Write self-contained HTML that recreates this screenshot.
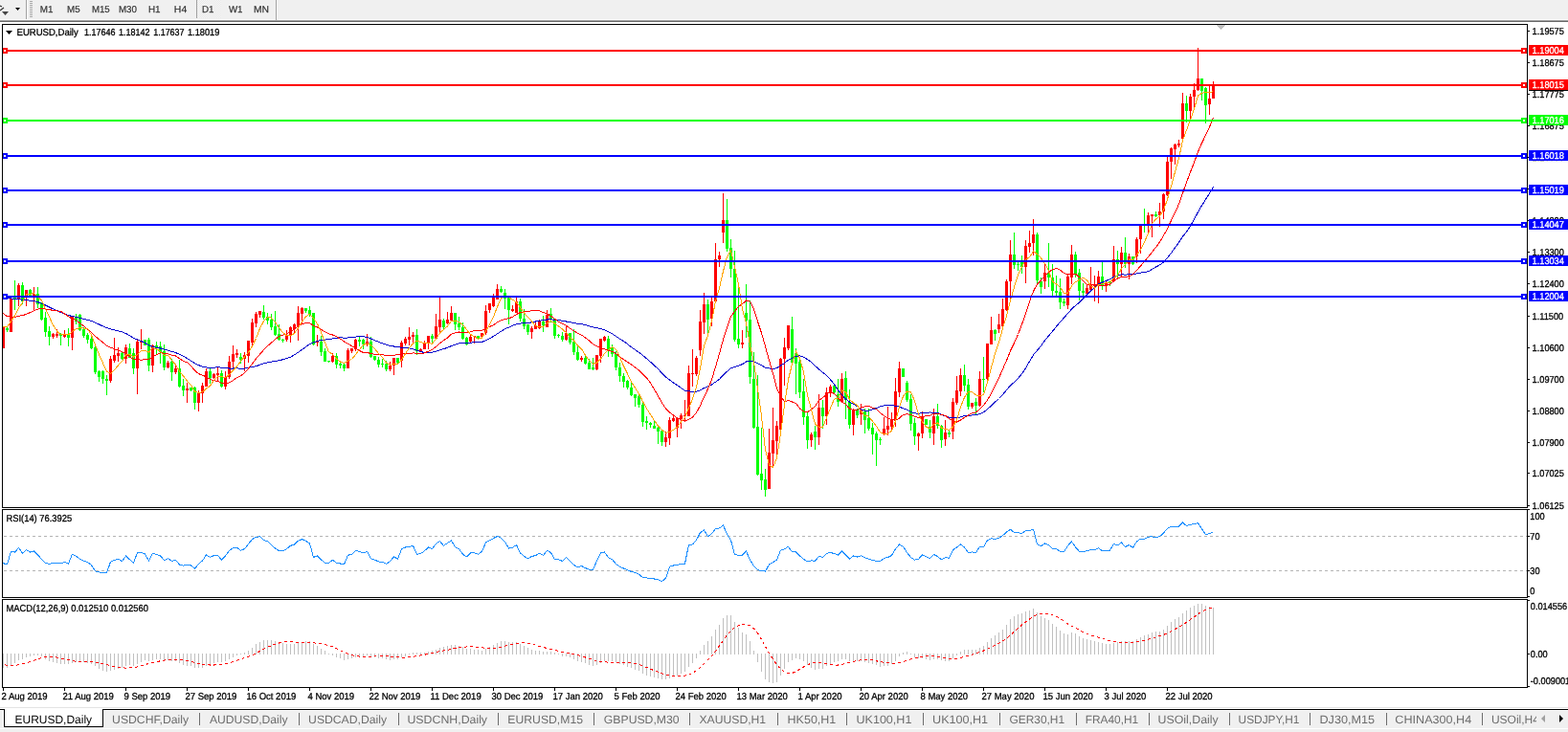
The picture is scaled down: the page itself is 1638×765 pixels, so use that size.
<!DOCTYPE html>
<html><head><meta charset="utf-8"><title>EURUSD,Daily</title>
<style>
html,body{margin:0;padding:0;background:#fff;}
body{width:1638px;height:765px;overflow:hidden;}
svg text{font-family:'Liberation Sans', Arial, sans-serif;text-rendering:geometricPrecision;}
</style></head>
<body>
<svg width="1638" height="765" viewBox="0 0 1638 765" style="display:block">
<rect x="0" y="0" width="1638" height="765" fill="#ffffff"/>
<rect x="0" y="0" width="1638" height="20" fill="#f0f0f0"/>
<rect x="0" y="20" width="1638" height="1" fill="#fafafa"/>
<rect x="0" y="21" width="1638" height="1" fill="#a0a0a0"/>
<rect x="0" y="22" width="1638" height="1" fill="#696969"/>
<clipPath id="cm"><rect x="3" y="26" width="1592" height="504"/></clipPath>
<clipPath id="cr"><rect x="3" y="533" width="1592" height="91"/></clipPath>
<clipPath id="cd"><rect x="3" y="627" width="1592" height="91"/></clipPath>
<g clip-path="url(#cm)" shape-rendering="crispEdges">
<rect x="3" y="341" width="1" height="23" fill="#ff0000"/>
<rect x="2" y="342" width="3" height="22" fill="#ff0000"/>
<rect x="7" y="342" width="1" height="5" fill="#00ff00"/>
<rect x="6" y="343" width="3" height="2" fill="#00ff00"/>
<rect x="11" y="311" width="1" height="36" fill="#ff0000"/>
<rect x="10" y="312" width="3" height="35" fill="#ff0000"/>
<rect x="15" y="293" width="1" height="31" fill="#00ff00"/>
<rect x="14" y="311" width="3" height="2" fill="#00ff00"/>
<rect x="19" y="296" width="1" height="24" fill="#ff0000"/>
<rect x="18" y="298" width="3" height="15" fill="#ff0000"/>
<rect x="23" y="295" width="1" height="23" fill="#00ff00"/>
<rect x="22" y="298" width="3" height="17" fill="#00ff00"/>
<rect x="27" y="303" width="1" height="17" fill="#ff0000"/>
<rect x="26" y="303" width="3" height="7" fill="#ff0000"/>
<rect x="31" y="302" width="1" height="8" fill="#00ff00"/>
<rect x="30" y="303" width="3" height="7" fill="#00ff00"/>
<rect x="35" y="300" width="1" height="25" fill="#ff0000"/>
<rect x="34" y="307" width="3" height="3" fill="#ff0000"/>
<rect x="39" y="300" width="1" height="22" fill="#00ff00"/>
<rect x="38" y="307" width="3" height="11" fill="#00ff00"/>
<rect x="43" y="316" width="1" height="19" fill="#00ff00"/>
<rect x="42" y="317" width="3" height="17" fill="#00ff00"/>
<rect x="47" y="326" width="1" height="26" fill="#00ff00"/>
<rect x="46" y="332" width="3" height="15" fill="#00ff00"/>
<rect x="51" y="341" width="1" height="20" fill="#00ff00"/>
<rect x="50" y="346" width="3" height="6" fill="#00ff00"/>
<rect x="55" y="348" width="1" height="6" fill="#ff0000"/>
<rect x="54" y="349" width="3" height="3" fill="#ff0000"/>
<rect x="59" y="344" width="1" height="9" fill="#ff0000"/>
<rect x="58" y="349" width="3" height="2" fill="#ff0000"/>
<rect x="63" y="348" width="1" height="13" fill="#00ff00"/>
<rect x="62" y="349" width="3" height="2" fill="#00ff00"/>
<rect x="67" y="345" width="1" height="8" fill="#ff0000"/>
<rect x="66" y="349" width="3" height="3" fill="#ff0000"/>
<rect x="71" y="343" width="1" height="19" fill="#00ff00"/>
<rect x="70" y="349" width="3" height="4" fill="#00ff00"/>
<rect x="75" y="330" width="1" height="36" fill="#ff0000"/>
<rect x="74" y="331" width="3" height="22" fill="#ff0000"/>
<rect x="79" y="328" width="1" height="11" fill="#00ff00"/>
<rect x="78" y="331" width="3" height="5" fill="#00ff00"/>
<rect x="83" y="328" width="1" height="18" fill="#00ff00"/>
<rect x="82" y="329" width="3" height="16" fill="#00ff00"/>
<rect x="87" y="342" width="1" height="11" fill="#00ff00"/>
<rect x="86" y="344" width="3" height="7" fill="#00ff00"/>
<rect x="91" y="348" width="1" height="11" fill="#00ff00"/>
<rect x="90" y="350" width="3" height="5" fill="#00ff00"/>
<rect x="95" y="350" width="1" height="15" fill="#00ff00"/>
<rect x="94" y="354" width="3" height="10" fill="#00ff00"/>
<rect x="99" y="362" width="1" height="29" fill="#00ff00"/>
<rect x="98" y="363" width="3" height="26" fill="#00ff00"/>
<rect x="103" y="387" width="1" height="12" fill="#00ff00"/>
<rect x="102" y="388" width="3" height="6" fill="#00ff00"/>
<rect x="107" y="387" width="1" height="14" fill="#00ff00"/>
<rect x="106" y="388" width="3" height="8" fill="#00ff00"/>
<rect x="111" y="392" width="1" height="21" fill="#00ff00"/>
<rect x="110" y="396" width="3" height="2" fill="#00ff00"/>
<rect x="115" y="372" width="1" height="28" fill="#ff0000"/>
<rect x="114" y="375" width="3" height="23" fill="#ff0000"/>
<rect x="119" y="353" width="1" height="26" fill="#ff0000"/>
<rect x="118" y="371" width="3" height="6" fill="#ff0000"/>
<rect x="123" y="363" width="1" height="15" fill="#ff0000"/>
<rect x="122" y="369" width="3" height="3" fill="#ff0000"/>
<rect x="127" y="368" width="1" height="8" fill="#00ff00"/>
<rect x="126" y="369" width="3" height="6" fill="#00ff00"/>
<rect x="131" y="360" width="1" height="20" fill="#ff0000"/>
<rect x="130" y="363" width="3" height="12" fill="#ff0000"/>
<rect x="135" y="359" width="1" height="15" fill="#00ff00"/>
<rect x="134" y="364" width="3" height="10" fill="#00ff00"/>
<rect x="139" y="364" width="1" height="27" fill="#00ff00"/>
<rect x="138" y="369" width="3" height="16" fill="#00ff00"/>
<rect x="143" y="355" width="1" height="57" fill="#ff0000"/>
<rect x="142" y="357" width="3" height="28" fill="#ff0000"/>
<rect x="147" y="344" width="1" height="21" fill="#ff0000"/>
<rect x="146" y="357" width="3" height="1" fill="#ff0000"/>
<rect x="151" y="355" width="1" height="6" fill="#00ff00"/>
<rect x="150" y="355" width="3" height="6" fill="#00ff00"/>
<rect x="155" y="353" width="1" height="35" fill="#00ff00"/>
<rect x="154" y="355" width="3" height="27" fill="#00ff00"/>
<rect x="159" y="360" width="1" height="29" fill="#ff0000"/>
<rect x="158" y="361" width="3" height="21" fill="#ff0000"/>
<rect x="163" y="357" width="1" height="13" fill="#00ff00"/>
<rect x="162" y="361" width="3" height="3" fill="#00ff00"/>
<rect x="167" y="357" width="1" height="23" fill="#00ff00"/>
<rect x="166" y="362" width="3" height="6" fill="#00ff00"/>
<rect x="171" y="360" width="1" height="27" fill="#00ff00"/>
<rect x="170" y="367" width="3" height="17" fill="#00ff00"/>
<rect x="175" y="377" width="1" height="8" fill="#ff0000"/>
<rect x="174" y="379" width="3" height="5" fill="#ff0000"/>
<rect x="179" y="375" width="1" height="23" fill="#00ff00"/>
<rect x="178" y="378" width="3" height="11" fill="#00ff00"/>
<rect x="183" y="382" width="1" height="9" fill="#ff0000"/>
<rect x="182" y="385" width="3" height="4" fill="#ff0000"/>
<rect x="187" y="376" width="1" height="29" fill="#00ff00"/>
<rect x="186" y="385" width="3" height="19" fill="#00ff00"/>
<rect x="191" y="396" width="1" height="18" fill="#00ff00"/>
<rect x="190" y="403" width="3" height="5" fill="#00ff00"/>
<rect x="195" y="400" width="1" height="21" fill="#ff0000"/>
<rect x="194" y="406" width="3" height="2" fill="#ff0000"/>
<rect x="199" y="405" width="1" height="4" fill="#00ff00"/>
<rect x="198" y="405" width="3" height="3" fill="#00ff00"/>
<rect x="203" y="404" width="1" height="24" fill="#00ff00"/>
<rect x="202" y="405" width="3" height="16" fill="#00ff00"/>
<rect x="207" y="408" width="1" height="22" fill="#ff0000"/>
<rect x="206" y="411" width="3" height="10" fill="#ff0000"/>
<rect x="211" y="400" width="1" height="21" fill="#ff0000"/>
<rect x="210" y="403" width="3" height="8" fill="#ff0000"/>
<rect x="215" y="385" width="1" height="19" fill="#ff0000"/>
<rect x="214" y="388" width="3" height="16" fill="#ff0000"/>
<rect x="219" y="385" width="1" height="16" fill="#00ff00"/>
<rect x="218" y="388" width="3" height="7" fill="#00ff00"/>
<rect x="223" y="390" width="1" height="6" fill="#ff0000"/>
<rect x="222" y="391" width="3" height="4" fill="#ff0000"/>
<rect x="227" y="384" width="1" height="14" fill="#ff0000"/>
<rect x="226" y="390" width="3" height="2" fill="#ff0000"/>
<rect x="231" y="387" width="1" height="18" fill="#00ff00"/>
<rect x="230" y="390" width="3" height="14" fill="#00ff00"/>
<rect x="235" y="388" width="1" height="19" fill="#ff0000"/>
<rect x="234" y="394" width="3" height="10" fill="#ff0000"/>
<rect x="239" y="372" width="1" height="24" fill="#ff0000"/>
<rect x="238" y="378" width="3" height="16" fill="#ff0000"/>
<rect x="243" y="361" width="1" height="23" fill="#ff0000"/>
<rect x="242" y="370" width="3" height="8" fill="#ff0000"/>
<rect x="247" y="365" width="1" height="9" fill="#ff0000"/>
<rect x="246" y="369" width="3" height="2" fill="#ff0000"/>
<rect x="251" y="369" width="1" height="11" fill="#00ff00"/>
<rect x="250" y="373" width="3" height="3" fill="#00ff00"/>
<rect x="255" y="368" width="1" height="20" fill="#ff0000"/>
<rect x="254" y="371" width="3" height="4" fill="#ff0000"/>
<rect x="259" y="356" width="1" height="23" fill="#ff0000"/>
<rect x="258" y="356" width="3" height="16" fill="#ff0000"/>
<rect x="263" y="333" width="1" height="28" fill="#ff0000"/>
<rect x="262" y="337" width="3" height="21" fill="#ff0000"/>
<rect x="267" y="326" width="1" height="16" fill="#ff0000"/>
<rect x="266" y="328" width="3" height="10" fill="#ff0000"/>
<rect x="271" y="325" width="1" height="7" fill="#ff0000"/>
<rect x="270" y="325" width="3" height="4" fill="#ff0000"/>
<rect x="275" y="319" width="1" height="15" fill="#00ff00"/>
<rect x="274" y="326" width="3" height="6" fill="#00ff00"/>
<rect x="279" y="327" width="1" height="12" fill="#00ff00"/>
<rect x="278" y="331" width="3" height="4" fill="#00ff00"/>
<rect x="283" y="328" width="1" height="17" fill="#00ff00"/>
<rect x="282" y="334" width="3" height="8" fill="#00ff00"/>
<rect x="287" y="325" width="1" height="26" fill="#00ff00"/>
<rect x="286" y="341" width="3" height="9" fill="#00ff00"/>
<rect x="291" y="339" width="1" height="17" fill="#00ff00"/>
<rect x="290" y="349" width="3" height="6" fill="#00ff00"/>
<rect x="295" y="354" width="1" height="4" fill="#00ff00"/>
<rect x="294" y="355" width="3" height="1" fill="#00ff00"/>
<rect x="299" y="345" width="1" height="12" fill="#ff0000"/>
<rect x="298" y="351" width="3" height="4" fill="#ff0000"/>
<rect x="303" y="341" width="1" height="17" fill="#ff0000"/>
<rect x="302" y="342" width="3" height="9" fill="#ff0000"/>
<rect x="307" y="338" width="1" height="10" fill="#ff0000"/>
<rect x="306" y="339" width="3" height="5" fill="#ff0000"/>
<rect x="311" y="320" width="1" height="36" fill="#ff0000"/>
<rect x="310" y="327" width="3" height="14" fill="#ff0000"/>
<rect x="315" y="321" width="1" height="17" fill="#ff0000"/>
<rect x="314" y="322" width="3" height="6" fill="#ff0000"/>
<rect x="319" y="322" width="1" height="5" fill="#00ff00"/>
<rect x="318" y="322" width="3" height="3" fill="#00ff00"/>
<rect x="323" y="320" width="1" height="11" fill="#00ff00"/>
<rect x="322" y="324" width="3" height="5" fill="#00ff00"/>
<rect x="327" y="327" width="1" height="34" fill="#00ff00"/>
<rect x="326" y="327" width="3" height="33" fill="#00ff00"/>
<rect x="331" y="350" width="1" height="12" fill="#ff0000"/>
<rect x="330" y="357" width="3" height="1" fill="#ff0000"/>
<rect x="335" y="351" width="1" height="21" fill="#00ff00"/>
<rect x="334" y="357" width="3" height="11" fill="#00ff00"/>
<rect x="339" y="364" width="1" height="14" fill="#00ff00"/>
<rect x="338" y="367" width="3" height="11" fill="#00ff00"/>
<rect x="343" y="377" width="1" height="2" fill="#00ff00"/>
<rect x="342" y="377" width="3" height="1" fill="#00ff00"/>
<rect x="347" y="369" width="1" height="10" fill="#ff0000"/>
<rect x="346" y="372" width="3" height="6" fill="#ff0000"/>
<rect x="351" y="369" width="1" height="16" fill="#00ff00"/>
<rect x="350" y="372" width="3" height="9" fill="#00ff00"/>
<rect x="355" y="378" width="1" height="7" fill="#00ff00"/>
<rect x="354" y="380" width="3" height="2" fill="#00ff00"/>
<rect x="359" y="379" width="1" height="9" fill="#00ff00"/>
<rect x="358" y="381" width="3" height="4" fill="#00ff00"/>
<rect x="363" y="364" width="1" height="21" fill="#ff0000"/>
<rect x="362" y="366" width="3" height="19" fill="#ff0000"/>
<rect x="367" y="364" width="1" height="5" fill="#ff0000"/>
<rect x="366" y="364" width="3" height="3" fill="#ff0000"/>
<rect x="371" y="354" width="1" height="13" fill="#ff0000"/>
<rect x="370" y="355" width="3" height="10" fill="#ff0000"/>
<rect x="375" y="352" width="1" height="10" fill="#00ff00"/>
<rect x="374" y="355" width="3" height="2" fill="#00ff00"/>
<rect x="379" y="354" width="1" height="11" fill="#00ff00"/>
<rect x="378" y="355" width="3" height="5" fill="#00ff00"/>
<rect x="383" y="349" width="1" height="13" fill="#ff0000"/>
<rect x="382" y="357" width="3" height="2" fill="#ff0000"/>
<rect x="387" y="352" width="1" height="22" fill="#00ff00"/>
<rect x="386" y="357" width="3" height="16" fill="#00ff00"/>
<rect x="391" y="372" width="1" height="5" fill="#00ff00"/>
<rect x="390" y="372" width="3" height="4" fill="#00ff00"/>
<rect x="395" y="373" width="1" height="11" fill="#00ff00"/>
<rect x="394" y="376" width="3" height="5" fill="#00ff00"/>
<rect x="399" y="375" width="1" height="9" fill="#00ff00"/>
<rect x="398" y="380" width="3" height="1" fill="#00ff00"/>
<rect x="403" y="377" width="1" height="11" fill="#00ff00"/>
<rect x="402" y="380" width="3" height="6" fill="#00ff00"/>
<rect x="407" y="378" width="1" height="10" fill="#ff0000"/>
<rect x="406" y="382" width="3" height="4" fill="#ff0000"/>
<rect x="411" y="374" width="1" height="18" fill="#ff0000"/>
<rect x="410" y="374" width="3" height="8" fill="#ff0000"/>
<rect x="415" y="374" width="1" height="6" fill="#00ff00"/>
<rect x="414" y="374" width="3" height="5" fill="#00ff00"/>
<rect x="419" y="356" width="1" height="28" fill="#ff0000"/>
<rect x="418" y="358" width="3" height="19" fill="#ff0000"/>
<rect x="423" y="352" width="1" height="9" fill="#ff0000"/>
<rect x="422" y="354" width="3" height="5" fill="#ff0000"/>
<rect x="427" y="342" width="1" height="19" fill="#ff0000"/>
<rect x="426" y="352" width="3" height="3" fill="#ff0000"/>
<rect x="431" y="347" width="1" height="12" fill="#ff0000"/>
<rect x="430" y="350" width="3" height="2" fill="#ff0000"/>
<rect x="435" y="344" width="1" height="27" fill="#00ff00"/>
<rect x="434" y="350" width="3" height="17" fill="#00ff00"/>
<rect x="439" y="364" width="1" height="4" fill="#ff0000"/>
<rect x="438" y="365" width="3" height="2" fill="#ff0000"/>
<rect x="443" y="356" width="1" height="9" fill="#ff0000"/>
<rect x="442" y="359" width="3" height="6" fill="#ff0000"/>
<rect x="447" y="351" width="1" height="14" fill="#ff0000"/>
<rect x="446" y="351" width="3" height="7" fill="#ff0000"/>
<rect x="451" y="349" width="1" height="9" fill="#00ff00"/>
<rect x="450" y="351" width="3" height="3" fill="#00ff00"/>
<rect x="455" y="328" width="1" height="26" fill="#ff0000"/>
<rect x="454" y="341" width="3" height="13" fill="#ff0000"/>
<rect x="459" y="311" width="1" height="37" fill="#ff0000"/>
<rect x="458" y="334" width="3" height="8" fill="#ff0000"/>
<rect x="463" y="333" width="1" height="11" fill="#00ff00"/>
<rect x="462" y="335" width="3" height="7" fill="#00ff00"/>
<rect x="467" y="326" width="1" height="13" fill="#ff0000"/>
<rect x="466" y="334" width="3" height="4" fill="#ff0000"/>
<rect x="471" y="320" width="1" height="16" fill="#ff0000"/>
<rect x="470" y="327" width="3" height="8" fill="#ff0000"/>
<rect x="475" y="327" width="1" height="18" fill="#00ff00"/>
<rect x="474" y="327" width="3" height="12" fill="#00ff00"/>
<rect x="479" y="331" width="1" height="14" fill="#00ff00"/>
<rect x="478" y="338" width="3" height="4" fill="#00ff00"/>
<rect x="483" y="337" width="1" height="18" fill="#00ff00"/>
<rect x="482" y="342" width="3" height="12" fill="#00ff00"/>
<rect x="487" y="352" width="1" height="9" fill="#00ff00"/>
<rect x="486" y="353" width="3" height="7" fill="#00ff00"/>
<rect x="491" y="350" width="1" height="9" fill="#ff0000"/>
<rect x="490" y="352" width="3" height="5" fill="#ff0000"/>
<rect x="495" y="351" width="1" height="8" fill="#ff0000"/>
<rect x="494" y="351" width="3" height="1" fill="#ff0000"/>
<rect x="499" y="351" width="1" height="4" fill="#00ff00"/>
<rect x="498" y="351" width="3" height="3" fill="#00ff00"/>
<rect x="503" y="348" width="1" height="6" fill="#ff0000"/>
<rect x="502" y="348" width="3" height="4" fill="#ff0000"/>
<rect x="507" y="319" width="1" height="31" fill="#ff0000"/>
<rect x="506" y="325" width="3" height="23" fill="#ff0000"/>
<rect x="511" y="317" width="1" height="10" fill="#ff0000"/>
<rect x="510" y="317" width="3" height="7" fill="#ff0000"/>
<rect x="515" y="307" width="1" height="14" fill="#ff0000"/>
<rect x="514" y="310" width="3" height="10" fill="#ff0000"/>
<rect x="519" y="297" width="1" height="16" fill="#ff0000"/>
<rect x="518" y="302" width="3" height="11" fill="#ff0000"/>
<rect x="523" y="299" width="1" height="7" fill="#00ff00"/>
<rect x="522" y="302" width="3" height="3" fill="#00ff00"/>
<rect x="527" y="302" width="1" height="21" fill="#00ff00"/>
<rect x="526" y="306" width="3" height="6" fill="#00ff00"/>
<rect x="531" y="310" width="1" height="29" fill="#00ff00"/>
<rect x="530" y="311" width="3" height="13" fill="#00ff00"/>
<rect x="535" y="319" width="1" height="7" fill="#ff0000"/>
<rect x="534" y="323" width="3" height="2" fill="#ff0000"/>
<rect x="539" y="311" width="1" height="16" fill="#ff0000"/>
<rect x="538" y="315" width="3" height="12" fill="#ff0000"/>
<rect x="543" y="312" width="1" height="24" fill="#00ff00"/>
<rect x="542" y="315" width="3" height="18" fill="#00ff00"/>
<rect x="547" y="323" width="1" height="21" fill="#00ff00"/>
<rect x="546" y="333" width="3" height="8" fill="#00ff00"/>
<rect x="551" y="339" width="1" height="11" fill="#00ff00"/>
<rect x="550" y="339" width="3" height="8" fill="#00ff00"/>
<rect x="555" y="341" width="1" height="13" fill="#ff0000"/>
<rect x="554" y="343" width="3" height="4" fill="#ff0000"/>
<rect x="559" y="337" width="1" height="7" fill="#ff0000"/>
<rect x="558" y="340" width="3" height="4" fill="#ff0000"/>
<rect x="563" y="334" width="1" height="10" fill="#ff0000"/>
<rect x="562" y="336" width="3" height="7" fill="#ff0000"/>
<rect x="567" y="330" width="1" height="17" fill="#00ff00"/>
<rect x="566" y="336" width="3" height="4" fill="#00ff00"/>
<rect x="571" y="324" width="1" height="18" fill="#ff0000"/>
<rect x="570" y="329" width="3" height="13" fill="#ff0000"/>
<rect x="575" y="322" width="1" height="15" fill="#00ff00"/>
<rect x="574" y="328" width="3" height="6" fill="#00ff00"/>
<rect x="579" y="333" width="1" height="21" fill="#00ff00"/>
<rect x="578" y="333" width="3" height="18" fill="#00ff00"/>
<rect x="583" y="349" width="1" height="4" fill="#00ff00"/>
<rect x="582" y="350" width="3" height="1" fill="#00ff00"/>
<rect x="587" y="347" width="1" height="10" fill="#00ff00"/>
<rect x="586" y="351" width="3" height="4" fill="#00ff00"/>
<rect x="591" y="340" width="1" height="16" fill="#ff0000"/>
<rect x="590" y="348" width="3" height="7" fill="#ff0000"/>
<rect x="595" y="348" width="1" height="12" fill="#00ff00"/>
<rect x="594" y="348" width="3" height="10" fill="#00ff00"/>
<rect x="599" y="344" width="1" height="27" fill="#00ff00"/>
<rect x="598" y="357" width="3" height="11" fill="#00ff00"/>
<rect x="603" y="362" width="1" height="15" fill="#00ff00"/>
<rect x="602" y="368" width="3" height="8" fill="#00ff00"/>
<rect x="607" y="372" width="1" height="6" fill="#ff0000"/>
<rect x="606" y="374" width="3" height="2" fill="#ff0000"/>
<rect x="611" y="372" width="1" height="9" fill="#00ff00"/>
<rect x="610" y="374" width="3" height="6" fill="#00ff00"/>
<rect x="615" y="375" width="1" height="11" fill="#00ff00"/>
<rect x="614" y="379" width="3" height="7" fill="#00ff00"/>
<rect x="619" y="374" width="1" height="13" fill="#00ff00"/>
<rect x="618" y="384" width="3" height="2" fill="#00ff00"/>
<rect x="623" y="371" width="1" height="16" fill="#ff0000"/>
<rect x="622" y="371" width="3" height="15" fill="#ff0000"/>
<rect x="627" y="354" width="1" height="25" fill="#ff0000"/>
<rect x="626" y="354" width="3" height="18" fill="#ff0000"/>
<rect x="631" y="351" width="1" height="6" fill="#ff0000"/>
<rect x="630" y="352" width="3" height="4" fill="#ff0000"/>
<rect x="635" y="351" width="1" height="22" fill="#00ff00"/>
<rect x="634" y="354" width="3" height="12" fill="#00ff00"/>
<rect x="639" y="360" width="1" height="13" fill="#00ff00"/>
<rect x="638" y="363" width="3" height="7" fill="#00ff00"/>
<rect x="643" y="367" width="1" height="20" fill="#00ff00"/>
<rect x="642" y="370" width="3" height="14" fill="#00ff00"/>
<rect x="647" y="379" width="1" height="20" fill="#00ff00"/>
<rect x="646" y="384" width="3" height="9" fill="#00ff00"/>
<rect x="651" y="390" width="1" height="15" fill="#00ff00"/>
<rect x="650" y="393" width="3" height="6" fill="#00ff00"/>
<rect x="655" y="397" width="1" height="10" fill="#00ff00"/>
<rect x="654" y="398" width="3" height="7" fill="#00ff00"/>
<rect x="659" y="400" width="1" height="14" fill="#00ff00"/>
<rect x="658" y="405" width="3" height="8" fill="#00ff00"/>
<rect x="663" y="412" width="1" height="13" fill="#00ff00"/>
<rect x="662" y="412" width="3" height="4" fill="#00ff00"/>
<rect x="667" y="413" width="1" height="13" fill="#00ff00"/>
<rect x="666" y="414" width="3" height="9" fill="#00ff00"/>
<rect x="671" y="421" width="1" height="25" fill="#00ff00"/>
<rect x="670" y="423" width="3" height="18" fill="#00ff00"/>
<rect x="675" y="435" width="1" height="14" fill="#00ff00"/>
<rect x="674" y="440" width="3" height="2" fill="#00ff00"/>
<rect x="679" y="441" width="1" height="6" fill="#00ff00"/>
<rect x="678" y="442" width="3" height="2" fill="#00ff00"/>
<rect x="683" y="440" width="1" height="8" fill="#00ff00"/>
<rect x="682" y="445" width="3" height="3" fill="#00ff00"/>
<rect x="687" y="444" width="1" height="20" fill="#00ff00"/>
<rect x="686" y="447" width="3" height="4" fill="#00ff00"/>
<rect x="691" y="450" width="1" height="16" fill="#00ff00"/>
<rect x="690" y="450" width="3" height="12" fill="#00ff00"/>
<rect x="695" y="451" width="1" height="16" fill="#ff0000"/>
<rect x="694" y="457" width="3" height="5" fill="#ff0000"/>
<rect x="699" y="436" width="1" height="29" fill="#ff0000"/>
<rect x="698" y="439" width="3" height="19" fill="#ff0000"/>
<rect x="703" y="435" width="1" height="6" fill="#ff0000"/>
<rect x="702" y="437" width="3" height="3" fill="#ff0000"/>
<rect x="707" y="436" width="1" height="21" fill="#ff0000"/>
<rect x="706" y="437" width="3" height="10" fill="#ff0000"/>
<rect x="711" y="432" width="1" height="16" fill="#ff0000"/>
<rect x="710" y="434" width="3" height="4" fill="#ff0000"/>
<rect x="715" y="418" width="1" height="23" fill="#ff0000"/>
<rect x="714" y="434" width="3" height="1" fill="#ff0000"/>
<rect x="719" y="382" width="1" height="53" fill="#ff0000"/>
<rect x="718" y="390" width="3" height="45" fill="#ff0000"/>
<rect x="723" y="365" width="1" height="39" fill="#ff0000"/>
<rect x="722" y="390" width="3" height="1" fill="#ff0000"/>
<rect x="727" y="372" width="1" height="21" fill="#ff0000"/>
<rect x="726" y="374" width="3" height="17" fill="#ff0000"/>
<rect x="731" y="324" width="1" height="48" fill="#ff0000"/>
<rect x="730" y="336" width="3" height="30" fill="#ff0000"/>
<rect x="735" y="306" width="1" height="43" fill="#ff0000"/>
<rect x="734" y="318" width="3" height="19" fill="#ff0000"/>
<rect x="739" y="313" width="1" height="36" fill="#00ff00"/>
<rect x="738" y="318" width="3" height="16" fill="#00ff00"/>
<rect x="743" y="311" width="1" height="30" fill="#ff0000"/>
<rect x="742" y="315" width="3" height="18" fill="#ff0000"/>
<rect x="747" y="254" width="1" height="62" fill="#ff0000"/>
<rect x="746" y="271" width="3" height="44" fill="#ff0000"/>
<rect x="751" y="263" width="1" height="16" fill="#ff0000"/>
<rect x="750" y="267" width="3" height="4" fill="#ff0000"/>
<rect x="755" y="202" width="1" height="52" fill="#ff0000"/>
<rect x="754" y="230" width="3" height="13" fill="#ff0000"/>
<rect x="759" y="208" width="1" height="55" fill="#00ff00"/>
<rect x="758" y="230" width="3" height="30" fill="#00ff00"/>
<rect x="763" y="250" width="1" height="40" fill="#00ff00"/>
<rect x="762" y="259" width="3" height="22" fill="#00ff00"/>
<rect x="767" y="262" width="1" height="95" fill="#00ff00"/>
<rect x="766" y="281" width="3" height="74" fill="#00ff00"/>
<rect x="771" y="301" width="1" height="63" fill="#00ff00"/>
<rect x="770" y="354" width="3" height="6" fill="#00ff00"/>
<rect x="775" y="345" width="1" height="19" fill="#ff0000"/>
<rect x="774" y="358" width="3" height="2" fill="#ff0000"/>
<rect x="779" y="297" width="1" height="56" fill="#00ff00"/>
<rect x="778" y="327" width="3" height="8" fill="#00ff00"/>
<rect x="783" y="314" width="1" height="87" fill="#00ff00"/>
<rect x="782" y="334" width="3" height="60" fill="#00ff00"/>
<rect x="787" y="368" width="1" height="80" fill="#00ff00"/>
<rect x="786" y="396" width="3" height="51" fill="#00ff00"/>
<rect x="791" y="392" width="1" height="105" fill="#00ff00"/>
<rect x="790" y="446" width="3" height="50" fill="#00ff00"/>
<rect x="795" y="447" width="1" height="65" fill="#00ff00"/>
<rect x="794" y="495" width="3" height="7" fill="#00ff00"/>
<rect x="799" y="490" width="1" height="29" fill="#00ff00"/>
<rect x="798" y="501" width="3" height="11" fill="#00ff00"/>
<rect x="803" y="448" width="1" height="63" fill="#ff0000"/>
<rect x="802" y="473" width="3" height="38" fill="#ff0000"/>
<rect x="807" y="426" width="1" height="62" fill="#ff0000"/>
<rect x="806" y="460" width="3" height="14" fill="#ff0000"/>
<rect x="811" y="440" width="1" height="35" fill="#ff0000"/>
<rect x="810" y="445" width="3" height="16" fill="#ff0000"/>
<rect x="815" y="374" width="1" height="75" fill="#ff0000"/>
<rect x="814" y="375" width="3" height="74" fill="#ff0000"/>
<rect x="819" y="353" width="1" height="50" fill="#ff0000"/>
<rect x="818" y="363" width="3" height="12" fill="#ff0000"/>
<rect x="823" y="340" width="1" height="26" fill="#ff0000"/>
<rect x="822" y="340" width="3" height="24" fill="#ff0000"/>
<rect x="827" y="331" width="1" height="49" fill="#00ff00"/>
<rect x="826" y="344" width="3" height="35" fill="#00ff00"/>
<rect x="831" y="364" width="1" height="48" fill="#00ff00"/>
<rect x="830" y="369" width="3" height="11" fill="#00ff00"/>
<rect x="835" y="373" width="1" height="43" fill="#00ff00"/>
<rect x="834" y="378" width="3" height="32" fill="#00ff00"/>
<rect x="839" y="396" width="1" height="48" fill="#00ff00"/>
<rect x="838" y="409" width="3" height="27" fill="#00ff00"/>
<rect x="843" y="431" width="1" height="38" fill="#00ff00"/>
<rect x="842" y="435" width="3" height="25" fill="#00ff00"/>
<rect x="847" y="452" width="1" height="15" fill="#ff0000"/>
<rect x="846" y="454" width="3" height="6" fill="#ff0000"/>
<rect x="851" y="445" width="1" height="25" fill="#00ff00"/>
<rect x="850" y="451" width="3" height="6" fill="#00ff00"/>
<rect x="855" y="412" width="1" height="53" fill="#ff0000"/>
<rect x="854" y="426" width="3" height="31" fill="#ff0000"/>
<rect x="859" y="418" width="1" height="30" fill="#00ff00"/>
<rect x="858" y="426" width="3" height="9" fill="#00ff00"/>
<rect x="863" y="405" width="1" height="39" fill="#ff0000"/>
<rect x="862" y="410" width="3" height="25" fill="#ff0000"/>
<rect x="867" y="402" width="1" height="13" fill="#ff0000"/>
<rect x="866" y="404" width="3" height="7" fill="#ff0000"/>
<rect x="871" y="402" width="1" height="9" fill="#00ff00"/>
<rect x="870" y="403" width="3" height="7" fill="#00ff00"/>
<rect x="875" y="396" width="1" height="29" fill="#00ff00"/>
<rect x="874" y="412" width="3" height="8" fill="#00ff00"/>
<rect x="879" y="390" width="1" height="31" fill="#ff0000"/>
<rect x="878" y="396" width="3" height="24" fill="#ff0000"/>
<rect x="883" y="388" width="1" height="50" fill="#00ff00"/>
<rect x="882" y="395" width="3" height="23" fill="#00ff00"/>
<rect x="887" y="407" width="1" height="41" fill="#00ff00"/>
<rect x="886" y="420" width="3" height="24" fill="#00ff00"/>
<rect x="891" y="427" width="1" height="28" fill="#ff0000"/>
<rect x="890" y="428" width="3" height="16" fill="#ff0000"/>
<rect x="895" y="427" width="1" height="10" fill="#00ff00"/>
<rect x="894" y="428" width="3" height="6" fill="#00ff00"/>
<rect x="899" y="422" width="1" height="22" fill="#ff0000"/>
<rect x="898" y="428" width="3" height="5" fill="#ff0000"/>
<rect x="903" y="427" width="1" height="26" fill="#00ff00"/>
<rect x="902" y="430" width="3" height="9" fill="#00ff00"/>
<rect x="907" y="427" width="1" height="23" fill="#00ff00"/>
<rect x="906" y="437" width="3" height="11" fill="#00ff00"/>
<rect x="911" y="442" width="1" height="33" fill="#00ff00"/>
<rect x="910" y="447" width="3" height="7" fill="#00ff00"/>
<rect x="915" y="451" width="1" height="36" fill="#00ff00"/>
<rect x="914" y="453" width="3" height="7" fill="#00ff00"/>
<rect x="919" y="457" width="1" height="8" fill="#00ff00"/>
<rect x="918" y="459" width="3" height="1" fill="#00ff00"/>
<rect x="923" y="436" width="1" height="19" fill="#ff0000"/>
<rect x="922" y="448" width="3" height="5" fill="#ff0000"/>
<rect x="927" y="425" width="1" height="30" fill="#ff0000"/>
<rect x="926" y="445" width="3" height="4" fill="#ff0000"/>
<rect x="931" y="431" width="1" height="18" fill="#ff0000"/>
<rect x="930" y="438" width="3" height="8" fill="#ff0000"/>
<rect x="935" y="395" width="1" height="51" fill="#ff0000"/>
<rect x="934" y="409" width="3" height="30" fill="#ff0000"/>
<rect x="939" y="378" width="1" height="37" fill="#ff0000"/>
<rect x="938" y="385" width="3" height="25" fill="#ff0000"/>
<rect x="943" y="385" width="1" height="9" fill="#00ff00"/>
<rect x="942" y="385" width="3" height="9" fill="#00ff00"/>
<rect x="947" y="398" width="1" height="22" fill="#00ff00"/>
<rect x="946" y="400" width="3" height="18" fill="#00ff00"/>
<rect x="951" y="412" width="1" height="38" fill="#00ff00"/>
<rect x="950" y="417" width="3" height="26" fill="#00ff00"/>
<rect x="955" y="437" width="1" height="28" fill="#00ff00"/>
<rect x="954" y="442" width="3" height="14" fill="#00ff00"/>
<rect x="959" y="452" width="1" height="19" fill="#ff0000"/>
<rect x="958" y="453" width="3" height="3" fill="#ff0000"/>
<rect x="963" y="430" width="1" height="28" fill="#ff0000"/>
<rect x="962" y="435" width="3" height="18" fill="#ff0000"/>
<rect x="967" y="438" width="1" height="6" fill="#00ff00"/>
<rect x="966" y="438" width="3" height="6" fill="#00ff00"/>
<rect x="971" y="439" width="1" height="19" fill="#00ff00"/>
<rect x="970" y="446" width="3" height="6" fill="#00ff00"/>
<rect x="975" y="427" width="1" height="38" fill="#ff0000"/>
<rect x="974" y="435" width="3" height="18" fill="#ff0000"/>
<rect x="979" y="422" width="1" height="26" fill="#00ff00"/>
<rect x="978" y="435" width="3" height="10" fill="#00ff00"/>
<rect x="983" y="444" width="1" height="24" fill="#00ff00"/>
<rect x="982" y="445" width="3" height="15" fill="#00ff00"/>
<rect x="987" y="439" width="1" height="27" fill="#ff0000"/>
<rect x="986" y="452" width="3" height="7" fill="#ff0000"/>
<rect x="991" y="450" width="1" height="7" fill="#00ff00"/>
<rect x="990" y="452" width="3" height="2" fill="#00ff00"/>
<rect x="995" y="416" width="1" height="43" fill="#ff0000"/>
<rect x="994" y="420" width="3" height="31" fill="#ff0000"/>
<rect x="999" y="393" width="1" height="30" fill="#ff0000"/>
<rect x="998" y="408" width="3" height="13" fill="#ff0000"/>
<rect x="1003" y="385" width="1" height="29" fill="#ff0000"/>
<rect x="1002" y="392" width="3" height="17" fill="#ff0000"/>
<rect x="1007" y="381" width="1" height="28" fill="#00ff00"/>
<rect x="1006" y="392" width="3" height="11" fill="#00ff00"/>
<rect x="1011" y="396" width="1" height="32" fill="#00ff00"/>
<rect x="1010" y="402" width="3" height="23" fill="#00ff00"/>
<rect x="1015" y="421" width="1" height="6" fill="#ff0000"/>
<rect x="1014" y="421" width="3" height="4" fill="#ff0000"/>
<rect x="1019" y="416" width="1" height="17" fill="#00ff00"/>
<rect x="1018" y="420" width="3" height="4" fill="#00ff00"/>
<rect x="1023" y="388" width="1" height="37" fill="#ff0000"/>
<rect x="1022" y="396" width="3" height="28" fill="#ff0000"/>
<rect x="1027" y="373" width="1" height="37" fill="#00ff00"/>
<rect x="1026" y="396" width="3" height="1" fill="#00ff00"/>
<rect x="1031" y="359" width="1" height="38" fill="#ff0000"/>
<rect x="1030" y="359" width="3" height="37" fill="#ff0000"/>
<rect x="1035" y="331" width="1" height="29" fill="#ff0000"/>
<rect x="1034" y="345" width="3" height="15" fill="#ff0000"/>
<rect x="1039" y="344" width="1" height="12" fill="#00ff00"/>
<rect x="1038" y="345" width="3" height="4" fill="#00ff00"/>
<rect x="1043" y="328" width="1" height="20" fill="#ff0000"/>
<rect x="1042" y="339" width="3" height="5" fill="#ff0000"/>
<rect x="1047" y="312" width="1" height="30" fill="#ff0000"/>
<rect x="1046" y="323" width="3" height="18" fill="#ff0000"/>
<rect x="1051" y="292" width="1" height="33" fill="#ff0000"/>
<rect x="1050" y="294" width="3" height="30" fill="#ff0000"/>
<rect x="1055" y="251" width="1" height="62" fill="#ff0000"/>
<rect x="1054" y="266" width="3" height="28" fill="#ff0000"/>
<rect x="1059" y="243" width="1" height="38" fill="#00ff00"/>
<rect x="1058" y="266" width="3" height="11" fill="#00ff00"/>
<rect x="1063" y="273" width="1" height="10" fill="#00ff00"/>
<rect x="1062" y="276" width="3" height="1" fill="#00ff00"/>
<rect x="1067" y="267" width="1" height="19" fill="#00ff00"/>
<rect x="1066" y="273" width="3" height="6" fill="#00ff00"/>
<rect x="1071" y="251" width="1" height="45" fill="#ff0000"/>
<rect x="1070" y="257" width="3" height="22" fill="#ff0000"/>
<rect x="1075" y="241" width="1" height="23" fill="#ff0000"/>
<rect x="1074" y="254" width="3" height="4" fill="#ff0000"/>
<rect x="1079" y="229" width="1" height="38" fill="#ff0000"/>
<rect x="1078" y="245" width="3" height="9" fill="#ff0000"/>
<rect x="1083" y="243" width="1" height="55" fill="#00ff00"/>
<rect x="1082" y="245" width="3" height="48" fill="#00ff00"/>
<rect x="1087" y="290" width="1" height="17" fill="#00ff00"/>
<rect x="1086" y="294" width="3" height="6" fill="#00ff00"/>
<rect x="1091" y="276" width="1" height="26" fill="#ff0000"/>
<rect x="1090" y="285" width="3" height="9" fill="#ff0000"/>
<rect x="1095" y="254" width="1" height="46" fill="#00ff00"/>
<rect x="1094" y="286" width="3" height="4" fill="#00ff00"/>
<rect x="1099" y="276" width="1" height="33" fill="#00ff00"/>
<rect x="1098" y="290" width="3" height="14" fill="#00ff00"/>
<rect x="1103" y="288" width="1" height="21" fill="#00ff00"/>
<rect x="1102" y="304" width="3" height="2" fill="#00ff00"/>
<rect x="1107" y="291" width="1" height="32" fill="#00ff00"/>
<rect x="1106" y="305" width="3" height="11" fill="#00ff00"/>
<rect x="1111" y="312" width="1" height="8" fill="#00ff00"/>
<rect x="1110" y="315" width="3" height="2" fill="#00ff00"/>
<rect x="1115" y="286" width="1" height="37" fill="#ff0000"/>
<rect x="1114" y="289" width="3" height="30" fill="#ff0000"/>
<rect x="1119" y="256" width="1" height="41" fill="#ff0000"/>
<rect x="1118" y="266" width="3" height="24" fill="#ff0000"/>
<rect x="1123" y="263" width="1" height="27" fill="#00ff00"/>
<rect x="1122" y="266" width="3" height="20" fill="#00ff00"/>
<rect x="1127" y="281" width="1" height="33" fill="#00ff00"/>
<rect x="1126" y="285" width="3" height="19" fill="#00ff00"/>
<rect x="1131" y="296" width="1" height="17" fill="#00ff00"/>
<rect x="1130" y="304" width="3" height="2" fill="#00ff00"/>
<rect x="1135" y="298" width="1" height="9" fill="#ff0000"/>
<rect x="1134" y="301" width="3" height="6" fill="#ff0000"/>
<rect x="1139" y="279" width="1" height="24" fill="#ff0000"/>
<rect x="1138" y="297" width="3" height="6" fill="#ff0000"/>
<rect x="1143" y="288" width="1" height="27" fill="#ff0000"/>
<rect x="1142" y="297" width="3" height="2" fill="#ff0000"/>
<rect x="1147" y="283" width="1" height="34" fill="#ff0000"/>
<rect x="1146" y="289" width="3" height="10" fill="#ff0000"/>
<rect x="1151" y="274" width="1" height="29" fill="#00ff00"/>
<rect x="1150" y="289" width="3" height="10" fill="#00ff00"/>
<rect x="1155" y="294" width="1" height="11" fill="#ff0000"/>
<rect x="1154" y="296" width="3" height="3" fill="#ff0000"/>
<rect x="1159" y="294" width="1" height="5" fill="#00ff00"/>
<rect x="1158" y="294" width="3" height="2" fill="#00ff00"/>
<rect x="1163" y="257" width="1" height="38" fill="#ff0000"/>
<rect x="1162" y="271" width="3" height="23" fill="#ff0000"/>
<rect x="1167" y="262" width="1" height="28" fill="#00ff00"/>
<rect x="1166" y="271" width="3" height="5" fill="#00ff00"/>
<rect x="1171" y="258" width="1" height="32" fill="#ff0000"/>
<rect x="1170" y="264" width="3" height="12" fill="#ff0000"/>
<rect x="1175" y="248" width="1" height="32" fill="#00ff00"/>
<rect x="1174" y="264" width="3" height="12" fill="#00ff00"/>
<rect x="1179" y="265" width="1" height="27" fill="#ff0000"/>
<rect x="1178" y="268" width="3" height="8" fill="#ff0000"/>
<rect x="1183" y="268" width="1" height="9" fill="#00ff00"/>
<rect x="1182" y="268" width="3" height="8" fill="#00ff00"/>
<rect x="1187" y="248" width="1" height="27" fill="#ff0000"/>
<rect x="1186" y="250" width="3" height="18" fill="#ff0000"/>
<rect x="1191" y="235" width="1" height="30" fill="#ff0000"/>
<rect x="1190" y="235" width="3" height="15" fill="#ff0000"/>
<rect x="1195" y="218" width="1" height="25" fill="#00ff00"/>
<rect x="1194" y="235" width="3" height="1" fill="#00ff00"/>
<rect x="1199" y="222" width="1" height="21" fill="#ff0000"/>
<rect x="1198" y="225" width="3" height="10" fill="#ff0000"/>
<rect x="1203" y="224" width="1" height="24" fill="#ff0000"/>
<rect x="1202" y="224" width="3" height="2" fill="#ff0000"/>
<rect x="1207" y="221" width="1" height="6" fill="#00ff00"/>
<rect x="1206" y="224" width="3" height="2" fill="#00ff00"/>
<rect x="1211" y="212" width="1" height="25" fill="#ff0000"/>
<rect x="1210" y="221" width="3" height="4" fill="#ff0000"/>
<rect x="1215" y="202" width="1" height="27" fill="#ff0000"/>
<rect x="1214" y="203" width="3" height="18" fill="#ff0000"/>
<rect x="1219" y="163" width="1" height="42" fill="#ff0000"/>
<rect x="1218" y="169" width="3" height="35" fill="#ff0000"/>
<rect x="1223" y="154" width="1" height="33" fill="#ff0000"/>
<rect x="1222" y="155" width="3" height="14" fill="#ff0000"/>
<rect x="1227" y="150" width="1" height="22" fill="#ff0000"/>
<rect x="1226" y="151" width="3" height="5" fill="#ff0000"/>
<rect x="1231" y="146" width="1" height="8" fill="#ff0000"/>
<rect x="1230" y="150" width="3" height="2" fill="#ff0000"/>
<rect x="1235" y="97" width="1" height="49" fill="#ff0000"/>
<rect x="1234" y="108" width="3" height="37" fill="#ff0000"/>
<rect x="1239" y="100" width="1" height="28" fill="#00ff00"/>
<rect x="1238" y="108" width="3" height="8" fill="#00ff00"/>
<rect x="1243" y="98" width="1" height="26" fill="#ff0000"/>
<rect x="1242" y="101" width="3" height="15" fill="#ff0000"/>
<rect x="1247" y="87" width="1" height="26" fill="#ff0000"/>
<rect x="1246" y="94" width="3" height="7" fill="#ff0000"/>
<rect x="1251" y="50" width="1" height="45" fill="#ff0000"/>
<rect x="1250" y="82" width="3" height="12" fill="#ff0000"/>
<rect x="1255" y="82" width="1" height="23" fill="#00ff00"/>
<rect x="1254" y="82" width="3" height="13" fill="#00ff00"/>
<rect x="1259" y="91" width="1" height="38" fill="#00ff00"/>
<rect x="1258" y="92" width="3" height="18" fill="#00ff00"/>
<rect x="1263" y="89" width="1" height="31" fill="#ff0000"/>
<rect x="1262" y="103" width="3" height="6" fill="#ff0000"/>
<rect x="1267" y="85" width="1" height="18" fill="#ff0000"/>
<rect x="1266" y="89" width="3" height="14" fill="#ff0000"/>
</g>
<polyline clip-path="url(#cm)" points="3.5,310.0 7.5,311.5 11.5,312.0 15.5,312.5 19.5,312.6 23.5,313.3 27.5,313.6 31.5,314.2 35.5,314.7 39.5,315.6 43.5,317.1 47.5,319.0 51.5,321.0 55.5,322.9 59.5,324.6 63.5,326.4 67.5,327.9 71.5,329.6 75.5,330.4 79.5,331.3 83.5,332.3 87.5,333.3 91.5,334.3 95.5,335.4 99.5,337.2 103.5,339.0 107.5,340.9 111.5,342.7 115.5,343.8 119.5,344.9 123.5,345.8 127.5,346.8 131.5,348.5 135.5,350.6 139.5,353.4 143.5,354.8 147.5,356.6 151.5,358.3 155.5,360.9 159.5,362.3 163.5,363.3 167.5,364.0 171.5,365.1 175.5,366.1 179.5,367.4 183.5,368.5 187.5,370.4 191.5,372.2 195.5,374.7 199.5,377.1 203.5,379.7 207.5,381.6 211.5,383.3 215.5,384.0 219.5,384.3 223.5,384.1 227.5,383.9 231.5,384.1 235.5,384.8 239.5,385.0 243.5,385.0 247.5,384.8 251.5,385.3 255.5,385.2 259.5,384.2 263.5,383.6 267.5,382.6 271.5,381.4 275.5,379.7 279.5,378.9 283.5,378.1 287.5,377.5 291.5,376.6 295.5,375.8 299.5,374.5 303.5,373.1 307.5,370.9 311.5,368.2 315.5,365.4 319.5,362.6 323.5,359.6 327.5,357.9 331.5,356.3 335.5,355.7 339.5,355.1 343.5,354.6 347.5,354.0 351.5,353.3 355.5,352.9 359.5,353.1 363.5,353.0 367.5,352.8 371.5,352.1 375.5,351.6 379.5,351.8 383.5,352.5 387.5,354.0 391.5,355.7 395.5,357.3 399.5,358.8 403.5,360.3 407.5,361.4 411.5,362.0 415.5,362.8 419.5,363.1 423.5,363.5 427.5,363.9 431.5,364.7 435.5,366.2 439.5,367.5 443.5,368.5 447.5,368.2 451.5,368.1 455.5,367.3 459.5,365.8 463.5,364.6 467.5,363.4 471.5,361.6 475.5,360.1 479.5,358.7 483.5,358.3 487.5,358.2 491.5,358.1 495.5,357.9 499.5,357.7 503.5,357.4 507.5,355.8 511.5,353.8 515.5,351.5 519.5,348.8 523.5,346.1 527.5,343.8 531.5,342.1 535.5,340.3 539.5,338.8 543.5,338.1 547.5,337.7 551.5,337.6 555.5,336.8 559.5,336.0 563.5,335.2 567.5,334.8 571.5,334.0 575.5,333.8 579.5,334.3 583.5,334.6 587.5,335.3 591.5,336.0 595.5,336.7 599.5,337.5 603.5,338.3 607.5,338.7 611.5,339.7 615.5,340.8 619.5,341.9 623.5,342.6 627.5,343.6 631.5,344.8 635.5,346.6 639.5,348.9 643.5,351.5 647.5,354.2 651.5,356.7 655.5,359.5 659.5,362.8 663.5,365.5 667.5,368.3 671.5,371.4 675.5,374.7 679.5,378.2 683.5,381.9 687.5,385.6 691.5,390.0 695.5,394.1 699.5,397.1 703.5,399.9 707.5,402.7 711.5,405.5 715.5,408.1 719.5,408.8 723.5,409.3 727.5,409.3 731.5,407.8 735.5,405.5 739.5,403.8 743.5,402.0 747.5,399.2 751.5,396.4 755.5,391.8 759.5,388.2 763.5,384.7 767.5,383.4 771.5,382.1 775.5,380.6 779.5,378.0 783.5,377.2 787.5,378.0 791.5,379.9 795.5,381.9 799.5,384.2 803.5,385.0 807.5,385.3 811.5,384.8 815.5,382.0 819.5,379.5 823.5,376.2 827.5,374.3 831.5,372.5 835.5,371.7 839.5,373.2 843.5,375.6 847.5,378.2 851.5,382.3 855.5,385.9 859.5,389.3 863.5,392.4 867.5,396.8 871.5,401.6 875.5,407.9 879.5,412.5 883.5,417.0 887.5,420.0 891.5,422.2 895.5,424.8 899.5,427.8 903.5,429.3 907.5,429.3 911.5,427.9 915.5,426.5 919.5,424.8 923.5,423.9 927.5,423.5 931.5,423.2 935.5,424.4 939.5,425.1 943.5,426.9 947.5,428.2 951.5,430.3 955.5,431.8 959.5,432.4 963.5,431.5 967.5,431.2 971.5,431.0 975.5,431.3 979.5,431.6 983.5,433.3 987.5,434.9 991.5,436.4 995.5,436.4 999.5,436.8 1003.5,435.9 1007.5,434.5 1011.5,434.5 1015.5,434.0 1019.5,433.9 1023.5,432.5 1027.5,430.8 1031.5,427.7 1035.5,423.9 1039.5,420.1 1043.5,416.5 1047.5,412.4 1051.5,407.6 1055.5,402.9 1059.5,399.3 1063.5,395.4 1067.5,390.7 1071.5,384.6 1075.5,377.8 1079.5,370.9 1083.5,366.2 1087.5,361.4 1091.5,355.8 1095.5,351.0 1099.5,346.3 1103.5,341.2 1107.5,336.6 1111.5,332.0 1115.5,327.7 1119.5,322.9 1123.5,319.4 1127.5,316.1 1131.5,312.2 1135.5,308.2 1139.5,303.9 1143.5,300.6 1147.5,297.0 1151.5,295.0 1155.5,293.4 1159.5,291.7 1163.5,289.4 1167.5,287.8 1171.5,286.8 1175.5,287.1 1179.5,286.8 1183.5,286.8 1187.5,285.8 1191.5,285.1 1195.5,284.5 1199.5,283.8 1203.5,281.5 1207.5,279.0 1211.5,276.9 1215.5,273.9 1219.5,269.4 1223.5,264.4 1227.5,258.9 1231.5,253.4 1235.5,247.3 1239.5,242.3 1243.5,236.1 1247.5,229.1 1251.5,221.6 1255.5,214.8 1259.5,208.5 1263.5,202.0 1267.5,195.4" fill="none" stroke="#0000cd" stroke-width="1" shape-rendering="crispEdges"/>
<polyline clip-path="url(#cm)" points="-0.5,324.9 3.5,327.8 7.5,330.8 11.5,331.2 15.5,331.4 19.5,330.2 23.5,329.8 27.5,328.2 31.5,326.6 35.5,324.6 39.5,323.1 43.5,322.6 47.5,322.9 51.5,323.6 55.5,324.4 59.5,324.9 63.5,325.4 67.5,328.0 71.5,330.8 75.5,333.2 79.5,334.7 83.5,337.7 87.5,340.7 91.5,344.1 95.5,347.4 99.5,351.4 103.5,354.8 107.5,357.9 111.5,361.4 115.5,363.2 119.5,364.7 123.5,366.1 127.5,367.8 131.5,370.0 135.5,372.7 139.5,375.6 143.5,375.9 147.5,376.1 151.5,375.8 155.5,375.4 159.5,373.0 163.5,370.7 167.5,368.6 171.5,369.2 175.5,369.8 179.5,371.2 183.5,371.9 187.5,374.8 191.5,377.3 195.5,378.8 199.5,382.5 203.5,387.1 207.5,390.6 211.5,392.1 215.5,394.0 219.5,396.3 223.5,397.9 227.5,398.3 231.5,400.1 235.5,400.4 239.5,399.9 243.5,397.5 247.5,394.7 251.5,392.6 255.5,389.9 259.5,385.3 263.5,380.1 267.5,374.7 271.5,370.2 275.5,365.7 279.5,361.7 283.5,358.2 287.5,354.4 291.5,351.7 295.5,350.1 299.5,348.7 303.5,346.8 307.5,344.1 311.5,340.9 315.5,338.5 319.5,337.6 323.5,337.7 327.5,340.2 331.5,342.0 335.5,344.3 339.5,346.9 343.5,348.9 347.5,350.0 351.5,351.8 355.5,354.1 359.5,357.1 363.5,359.1 367.5,361.7 371.5,364.1 375.5,366.4 379.5,368.6 383.5,368.4 387.5,369.6 391.5,370.2 395.5,370.4 399.5,370.7 403.5,371.7 407.5,371.8 411.5,371.2 415.5,370.8 419.5,370.3 423.5,369.6 427.5,369.4 431.5,368.9 435.5,369.3 439.5,369.9 443.5,368.9 447.5,367.2 451.5,365.2 455.5,362.4 459.5,358.7 463.5,355.8 467.5,352.9 471.5,349.2 475.5,347.8 479.5,347.0 483.5,347.1 487.5,347.8 491.5,346.8 495.5,345.7 499.5,345.4 503.5,345.2 507.5,343.1 511.5,341.4 515.5,339.7 519.5,336.9 523.5,334.8 527.5,333.7 531.5,332.7 535.5,331.3 539.5,328.5 543.5,326.5 547.5,325.8 551.5,325.5 555.5,324.7 559.5,324.1 563.5,324.8 567.5,326.5 571.5,327.8 575.5,330.1 579.5,333.4 583.5,336.2 587.5,338.4 591.5,340.2 595.5,343.2 599.5,345.8 603.5,348.3 607.5,350.2 611.5,352.9 615.5,356.1 619.5,359.7 623.5,361.9 627.5,363.6 631.5,364.9 635.5,366.0 639.5,367.4 643.5,369.5 647.5,372.7 651.5,375.7 655.5,378.3 659.5,380.9 663.5,383.9 667.5,387.0 671.5,391.0 675.5,395.0 679.5,400.2 683.5,406.9 687.5,414.0 691.5,420.9 695.5,427.1 699.5,431.0 703.5,434.1 707.5,436.8 711.5,438.8 715.5,440.3 719.5,438.5 723.5,436.1 727.5,431.3 731.5,423.8 735.5,414.8 739.5,406.6 743.5,396.9 747.5,383.3 751.5,369.7 755.5,354.8 759.5,342.1 763.5,331.0 767.5,325.4 771.5,320.1 775.5,317.8 779.5,313.9 783.5,315.3 787.5,323.2 791.5,335.9 795.5,348.0 799.5,362.1 803.5,376.5 807.5,390.3 811.5,405.7 815.5,413.9 819.5,419.7 823.5,418.6 827.5,420.0 831.5,421.6 835.5,426.9 839.5,429.9 843.5,430.8 847.5,427.8 851.5,424.6 855.5,418.4 859.5,415.7 863.5,412.1 867.5,409.2 871.5,411.7 875.5,415.8 879.5,419.8 883.5,422.5 887.5,427.1 891.5,428.4 895.5,428.2 899.5,425.9 903.5,424.8 907.5,424.1 911.5,426.1 915.5,427.8 919.5,431.4 923.5,434.6 927.5,437.1 931.5,438.4 935.5,439.3 939.5,437.0 943.5,433.4 947.5,432.8 951.5,433.4 955.5,435.4 959.5,436.4 963.5,435.5 967.5,434.8 971.5,434.3 975.5,432.5 979.5,432.2 983.5,433.3 987.5,434.3 991.5,437.5 995.5,440.0 999.5,441.0 1003.5,439.1 1007.5,436.3 1011.5,434.0 1015.5,431.8 1019.5,431.0 1023.5,427.6 1027.5,423.7 1031.5,418.3 1035.5,411.1 1039.5,403.2 1043.5,395.1 1047.5,385.8 1051.5,376.8 1055.5,366.7 1059.5,358.4 1063.5,349.5 1067.5,339.1 1071.5,327.3 1075.5,315.2 1079.5,304.4 1083.5,297.0 1087.5,292.8 1091.5,288.5 1095.5,284.3 1099.5,281.8 1103.5,280.5 1107.5,282.1 1111.5,285.7 1115.5,286.6 1119.5,285.8 1123.5,286.3 1127.5,289.7 1131.5,293.4 1135.5,297.3 1139.5,297.6 1143.5,297.4 1147.5,297.8 1151.5,298.3 1155.5,297.8 1159.5,297.1 1163.5,293.9 1167.5,291.0 1171.5,289.2 1175.5,289.9 1179.5,288.6 1183.5,286.6 1187.5,282.6 1191.5,277.9 1195.5,273.5 1199.5,268.3 1203.5,263.6 1207.5,258.4 1211.5,253.0 1215.5,246.3 1219.5,239.0 1223.5,230.4 1227.5,222.3 1231.5,213.3 1235.5,201.9 1239.5,190.5 1243.5,179.8 1247.5,169.7 1251.5,158.8 1255.5,149.5 1259.5,141.4 1263.5,132.6 1267.5,123.2" fill="none" stroke="#ff0000" stroke-width="1" shape-rendering="crispEdges"/>
<polyline clip-path="url(#cm)" points="-0.5,340.3 3.5,341.1 7.5,341.9 11.5,335.7 15.5,329.9 19.5,321.9 23.5,316.4 27.5,308.0 31.5,307.6 35.5,306.3 39.5,310.2 43.5,314.0 47.5,322.8 51.5,331.3 55.5,339.8 59.5,346.1 63.5,349.6 67.5,349.9 71.5,350.0 75.5,346.4 79.5,343.8 83.5,342.6 87.5,343.1 91.5,343.5 95.5,350.1 99.5,360.7 103.5,370.5 107.5,379.5 111.5,388.2 115.5,390.4 119.5,386.8 123.5,381.8 127.5,377.6 131.5,370.6 135.5,370.3 139.5,373.0 143.5,370.5 147.5,366.8 151.5,366.4 155.5,368.1 159.5,363.3 163.5,364.8 167.5,367.1 171.5,371.8 175.5,371.1 179.5,376.7 183.5,381.0 187.5,388.2 191.5,392.9 195.5,398.3 199.5,402.2 203.5,409.3 207.5,410.6 211.5,409.7 215.5,406.0 219.5,403.4 223.5,397.4 227.5,393.3 231.5,393.4 235.5,394.7 239.5,391.3 243.5,387.1 247.5,382.9 251.5,377.4 255.5,372.8 259.5,368.4 263.5,361.8 267.5,353.5 271.5,343.3 275.5,335.5 279.5,331.2 283.5,332.2 287.5,336.7 291.5,342.7 295.5,347.5 299.5,350.7 303.5,350.7 307.5,348.5 311.5,342.8 315.5,336.0 319.5,330.8 323.5,328.2 327.5,332.5 331.5,338.4 335.5,347.5 339.5,358.1 343.5,367.9 347.5,370.2 351.5,375.0 355.5,378.0 359.5,379.4 363.5,377.1 367.5,375.5 371.5,370.5 375.5,365.4 379.5,360.4 383.5,358.7 387.5,360.5 391.5,364.6 395.5,369.3 399.5,373.5 403.5,379.3 407.5,381.2 411.5,380.8 415.5,380.6 419.5,376.0 423.5,369.6 427.5,363.6 431.5,358.8 435.5,356.2 439.5,357.6 443.5,358.7 447.5,358.5 451.5,359.2 455.5,354.1 459.5,347.9 463.5,344.3 467.5,340.9 471.5,335.6 475.5,335.1 479.5,336.8 483.5,339.3 487.5,344.5 491.5,349.4 495.5,351.9 499.5,354.2 503.5,353.1 507.5,346.1 511.5,339.2 515.5,331.0 519.5,320.6 523.5,311.9 527.5,309.3 531.5,310.7 535.5,313.2 539.5,315.8 543.5,321.3 547.5,327.1 551.5,331.7 555.5,335.7 559.5,340.8 563.5,341.4 567.5,341.2 571.5,337.6 575.5,335.8 579.5,337.9 583.5,341.0 587.5,343.9 591.5,347.7 595.5,352.6 599.5,356.0 603.5,361.0 607.5,364.8 611.5,371.3 615.5,376.8 619.5,380.3 623.5,379.2 627.5,375.2 631.5,369.6 635.5,365.6 639.5,362.5 643.5,365.2 647.5,373.1 651.5,382.6 655.5,390.5 659.5,399.1 663.5,405.4 667.5,411.4 671.5,419.7 675.5,427.0 679.5,433.2 683.5,439.5 687.5,445.1 691.5,449.3 695.5,452.3 699.5,451.4 703.5,449.3 707.5,446.4 711.5,440.8 715.5,436.2 719.5,426.4 723.5,416.9 727.5,404.4 731.5,384.8 735.5,361.6 739.5,350.3 743.5,335.4 747.5,314.8 751.5,300.9 755.5,283.4 759.5,268.6 763.5,261.8 767.5,278.7 771.5,297.2 775.5,322.9 779.5,337.9 783.5,360.5 787.5,378.8 791.5,406.1 795.5,434.9 799.5,470.4 803.5,486.1 807.5,488.7 811.5,478.6 815.5,453.1 819.5,423.2 823.5,396.6 827.5,380.4 831.5,367.3 835.5,374.4 839.5,389.0 843.5,413.0 847.5,427.9 851.5,443.3 855.5,446.6 859.5,446.5 863.5,436.4 867.5,426.5 871.5,417.1 875.5,415.8 879.5,407.9 883.5,409.5 887.5,417.5 891.5,421.0 895.5,423.8 899.5,430.1 903.5,434.3 907.5,435.1 911.5,440.3 915.5,445.4 919.5,451.9 923.5,453.9 927.5,453.4 931.5,450.2 935.5,440.2 939.5,425.1 943.5,414.2 947.5,408.8 951.5,409.7 955.5,419.1 959.5,432.7 963.5,441.0 967.5,446.1 971.5,447.9 975.5,443.7 979.5,442.0 983.5,447.0 987.5,448.7 991.5,449.2 995.5,446.2 999.5,438.8 1003.5,425.2 1007.5,415.3 1011.5,409.4 1015.5,409.7 1019.5,412.9 1023.5,413.7 1027.5,412.6 1031.5,399.5 1035.5,384.3 1039.5,369.2 1043.5,357.9 1047.5,343.1 1051.5,330.1 1055.5,314.3 1059.5,299.9 1063.5,287.5 1067.5,278.6 1071.5,271.1 1075.5,268.8 1079.5,262.5 1083.5,265.7 1087.5,269.8 1091.5,275.4 1095.5,282.6 1099.5,294.4 1103.5,297.0 1107.5,300.2 1111.5,306.5 1115.5,306.3 1119.5,298.7 1123.5,294.8 1127.5,292.5 1131.5,290.3 1135.5,292.7 1139.5,298.8 1143.5,301.0 1147.5,298.0 1151.5,296.6 1155.5,295.7 1159.5,295.6 1163.5,290.4 1167.5,287.7 1171.5,280.8 1175.5,276.6 1179.5,271.0 1183.5,271.9 1187.5,266.7 1191.5,260.9 1195.5,252.8 1199.5,244.2 1203.5,233.7 1207.5,228.9 1211.5,226.0 1215.5,219.5 1219.5,208.3 1223.5,194.6 1227.5,179.7 1231.5,165.6 1235.5,146.6 1239.5,136.0 1243.5,125.2 1247.5,113.7 1251.5,100.0 1255.5,97.4 1259.5,96.2 1263.5,96.6 1267.5,95.7" fill="none" stroke="#ffa500" stroke-width="1" shape-rendering="crispEdges"/>
<rect x="3" y="52" width="1592" height="2" fill="#ff0000"/>
<rect x="2" y="50" width="6" height="6" fill="#ff0000"/>
<rect x="4" y="52" width="2" height="2" fill="#ffffff"/>
<rect x="1589" y="50" width="6" height="6" fill="#ff0000"/>
<rect x="1591" y="52" width="2" height="2" fill="#ffffff"/>
<rect x="3" y="88" width="1592" height="2" fill="#ff0000"/>
<rect x="2" y="86" width="6" height="6" fill="#ff0000"/>
<rect x="4" y="88" width="2" height="2" fill="#ffffff"/>
<rect x="1589" y="86" width="6" height="6" fill="#ff0000"/>
<rect x="1591" y="88" width="2" height="2" fill="#ffffff"/>
<rect x="3" y="125" width="1592" height="2" fill="#00ff00"/>
<rect x="2" y="123" width="6" height="6" fill="#00ff00"/>
<rect x="4" y="125" width="2" height="2" fill="#ffffff"/>
<rect x="1589" y="123" width="6" height="6" fill="#00ff00"/>
<rect x="1591" y="125" width="2" height="2" fill="#ffffff"/>
<rect x="3" y="162" width="1592" height="2" fill="#0000ff"/>
<rect x="2" y="160" width="6" height="6" fill="#0000ff"/>
<rect x="4" y="162" width="2" height="2" fill="#ffffff"/>
<rect x="1589" y="160" width="6" height="6" fill="#0000ff"/>
<rect x="1591" y="162" width="2" height="2" fill="#ffffff"/>
<rect x="3" y="198" width="1592" height="2" fill="#0000ff"/>
<rect x="2" y="196" width="6" height="6" fill="#0000ff"/>
<rect x="4" y="198" width="2" height="2" fill="#ffffff"/>
<rect x="1589" y="196" width="6" height="6" fill="#0000ff"/>
<rect x="1591" y="198" width="2" height="2" fill="#ffffff"/>
<rect x="3" y="234" width="1592" height="2" fill="#0000ff"/>
<rect x="2" y="232" width="6" height="6" fill="#0000ff"/>
<rect x="4" y="234" width="2" height="2" fill="#ffffff"/>
<rect x="1589" y="232" width="6" height="6" fill="#0000ff"/>
<rect x="1591" y="234" width="2" height="2" fill="#ffffff"/>
<rect x="3" y="272" width="1592" height="2" fill="#0000ff"/>
<rect x="2" y="270" width="6" height="6" fill="#0000ff"/>
<rect x="4" y="272" width="2" height="2" fill="#ffffff"/>
<rect x="1589" y="270" width="6" height="6" fill="#0000ff"/>
<rect x="1591" y="272" width="2" height="2" fill="#ffffff"/>
<rect x="3" y="309" width="1592" height="2" fill="#0000ff"/>
<rect x="2" y="307" width="6" height="6" fill="#0000ff"/>
<rect x="4" y="309" width="2" height="2" fill="#ffffff"/>
<rect x="1589" y="307" width="6" height="6" fill="#0000ff"/>
<rect x="1591" y="309" width="2" height="2" fill="#ffffff"/>
<rect x="2" y="25" width="1594" height="1" fill="#000"/>
<rect x="2" y="530" width="1594" height="1" fill="#000"/>
<rect x="2" y="25" width="1" height="506" fill="#000"/>
<rect x="1595" y="25" width="1" height="506" fill="#000"/>
<rect x="1271" y="26" width="9" height="1" fill="#c0c0c0"/>
<rect x="1272" y="27" width="7" height="1" fill="#c0c0c0"/>
<rect x="1273" y="28" width="5" height="1" fill="#c0c0c0"/>
<rect x="1274" y="29" width="3" height="1" fill="#c0c0c0"/>
<rect x="1275" y="30" width="1" height="1" fill="#c0c0c0"/>
<rect x="2" y="532" width="1594" height="1" fill="#000"/>
<rect x="2" y="624" width="1594" height="1" fill="#000"/>
<rect x="2" y="532" width="1" height="93" fill="#000"/>
<rect x="1595" y="532" width="1" height="93" fill="#000"/>
<rect x="2" y="626" width="1594" height="1" fill="#000"/>
<rect x="2" y="718" width="1594" height="1" fill="#000"/>
<rect x="2" y="626" width="1" height="93" fill="#000"/>
<rect x="1595" y="626" width="1" height="93" fill="#000"/>
<rect x="1596" y="32" width="2" height="1" fill="#000"/>
<text x="1600.60" y="36" font-size="10" fill="#000" textLength="33.26" lengthAdjust="spacingAndGlyphs" stroke="#000" stroke-width="0.3">1.19575</text>
<rect x="1596" y="65" width="2" height="1" fill="#000"/>
<text x="1600.60" y="69" font-size="10" fill="#000" textLength="33.26" lengthAdjust="spacingAndGlyphs" stroke="#000" stroke-width="0.3">1.18675</text>
<rect x="1596" y="98" width="2" height="1" fill="#000"/>
<text x="1600.60" y="102" font-size="10" fill="#000" textLength="33.26" lengthAdjust="spacingAndGlyphs" stroke="#000" stroke-width="0.3">1.17775</text>
<rect x="1596" y="131" width="2" height="1" fill="#000"/>
<text x="1600.60" y="135" font-size="10" fill="#000" textLength="33.26" lengthAdjust="spacingAndGlyphs" stroke="#000" stroke-width="0.3">1.16875</text>
<rect x="1596" y="164" width="2" height="1" fill="#000"/>
<text x="1600.60" y="168" font-size="10" fill="#000" textLength="33.26" lengthAdjust="spacingAndGlyphs" stroke="#000" stroke-width="0.3">1.16000</text>
<rect x="1596" y="197" width="2" height="1" fill="#000"/>
<text x="1600.60" y="201" font-size="10" fill="#000" textLength="33.26" lengthAdjust="spacingAndGlyphs" stroke="#000" stroke-width="0.3">1.15100</text>
<rect x="1596" y="230" width="2" height="1" fill="#000"/>
<text x="1600.60" y="234" font-size="10" fill="#000" textLength="33.26" lengthAdjust="spacingAndGlyphs" stroke="#000" stroke-width="0.3">1.14200</text>
<rect x="1596" y="263" width="2" height="1" fill="#000"/>
<text x="1600.60" y="267" font-size="10" fill="#000" textLength="33.26" lengthAdjust="spacingAndGlyphs" stroke="#000" stroke-width="0.3">1.13300</text>
<rect x="1596" y="296" width="2" height="1" fill="#000"/>
<text x="1600.60" y="300" font-size="10" fill="#000" textLength="33.26" lengthAdjust="spacingAndGlyphs" stroke="#000" stroke-width="0.3">1.12400</text>
<rect x="1596" y="330" width="2" height="1" fill="#000"/>
<text x="1600.60" y="334" font-size="10" fill="#000" textLength="32.57" lengthAdjust="spacingAndGlyphs" stroke="#000" stroke-width="0.3">1.11500</text>
<rect x="1596" y="363" width="2" height="1" fill="#000"/>
<text x="1600.60" y="367" font-size="10" fill="#000" textLength="33.26" lengthAdjust="spacingAndGlyphs" stroke="#000" stroke-width="0.3">1.10600</text>
<rect x="1596" y="396" width="2" height="1" fill="#000"/>
<text x="1600.60" y="400" font-size="10" fill="#000" textLength="33.26" lengthAdjust="spacingAndGlyphs" stroke="#000" stroke-width="0.3">1.09700</text>
<rect x="1596" y="429" width="2" height="1" fill="#000"/>
<text x="1600.60" y="433" font-size="10" fill="#000" textLength="33.26" lengthAdjust="spacingAndGlyphs" stroke="#000" stroke-width="0.3">1.08800</text>
<rect x="1596" y="462" width="2" height="1" fill="#000"/>
<text x="1600.60" y="466" font-size="10" fill="#000" textLength="33.26" lengthAdjust="spacingAndGlyphs" stroke="#000" stroke-width="0.3">1.07900</text>
<rect x="1596" y="494" width="2" height="1" fill="#000"/>
<text x="1600.60" y="498" font-size="10" fill="#000" textLength="33.26" lengthAdjust="spacingAndGlyphs" stroke="#000" stroke-width="0.3">1.07025</text>
<rect x="1596" y="528" width="2" height="1" fill="#000"/>
<text x="1600.60" y="532" font-size="10" fill="#000" textLength="33.26" lengthAdjust="spacingAndGlyphs" stroke="#000" stroke-width="0.3">1.06125</text>
<rect x="1597" y="84" width="41" height="11" fill="#000"/>
<rect x="1597" y="47" width="41" height="11" fill="#ff0000"/>
<text x="1600.60" y="56" font-size="10" fill="#ffffff" textLength="33.26" lengthAdjust="spacingAndGlyphs" stroke="#ffffff" stroke-width="0.3">1.19004</text>
<rect x="1597" y="83" width="41" height="11" fill="#ff0000"/>
<text x="1600.60" y="92" font-size="10" fill="#ffffff" textLength="33.26" lengthAdjust="spacingAndGlyphs" stroke="#ffffff" stroke-width="0.3">1.18015</text>
<rect x="1597" y="120" width="41" height="11" fill="#00ff00"/>
<text x="1600.60" y="129" font-size="10" fill="#ffffff" textLength="33.26" lengthAdjust="spacingAndGlyphs" stroke="#ffffff" stroke-width="0.3">1.17016</text>
<rect x="1597" y="157" width="41" height="11" fill="#0000ff"/>
<text x="1600.60" y="166" font-size="10" fill="#ffffff" textLength="33.26" lengthAdjust="spacingAndGlyphs" stroke="#ffffff" stroke-width="0.3">1.16018</text>
<rect x="1597" y="193" width="41" height="11" fill="#0000ff"/>
<text x="1600.60" y="202" font-size="10" fill="#ffffff" textLength="33.26" lengthAdjust="spacingAndGlyphs" stroke="#ffffff" stroke-width="0.3">1.15019</text>
<rect x="1597" y="229" width="41" height="11" fill="#0000ff"/>
<text x="1600.60" y="238" font-size="10" fill="#ffffff" textLength="33.26" lengthAdjust="spacingAndGlyphs" stroke="#ffffff" stroke-width="0.3">1.14047</text>
<rect x="1597" y="267" width="41" height="11" fill="#0000ff"/>
<text x="1600.60" y="276" font-size="10" fill="#ffffff" textLength="33.26" lengthAdjust="spacingAndGlyphs" stroke="#ffffff" stroke-width="0.3">1.13034</text>
<rect x="1597" y="304" width="41" height="11" fill="#0000ff"/>
<text x="1600.60" y="313" font-size="10" fill="#ffffff" textLength="33.26" lengthAdjust="spacingAndGlyphs" stroke="#ffffff" stroke-width="0.3">1.12004</text>
<path d="M6,32 L13,32 L9.5,36 Z" fill="#000"/>
<text x="17.54" y="37" font-size="10" fill="#000" textLength="64.20" lengthAdjust="spacingAndGlyphs" stroke="#000" stroke-width="0.3">EURUSD,Daily</text>
<text x="87.93" y="37" font-size="10" fill="#000" textLength="32.48" lengthAdjust="spacingAndGlyphs" stroke="#000" stroke-width="0.3">1.17646</text>
<text x="124.02" y="37" font-size="10" fill="#000" textLength="32.63" lengthAdjust="spacingAndGlyphs" stroke="#000" stroke-width="0.3">1.18142</text>
<text x="160.23" y="37" font-size="10" fill="#000" textLength="32.32" lengthAdjust="spacingAndGlyphs" stroke="#000" stroke-width="0.3">1.17637</text>
<text x="196.01" y="37" font-size="10" fill="#000" textLength="33.30" lengthAdjust="spacingAndGlyphs" stroke="#000" stroke-width="0.3">1.18019</text>
<line x1="4" y1="560.5" x2="1595" y2="560.5" stroke="#b4b4b4" stroke-width="1" stroke-dasharray="3,3" shape-rendering="crispEdges"/>
<line x1="4" y1="596.5" x2="1595" y2="596.5" stroke="#b4b4b4" stroke-width="1" stroke-dasharray="3,3" shape-rendering="crispEdges"/>
<polyline clip-path="url(#cr)" points="-0.5,589.2 3.5,588.8 7.5,589.6 11.5,576.6 15.5,577.1 19.5,572.5 23.5,578.2 27.5,574.8 31.5,577.0 35.5,576.0 39.5,579.8 43.5,584.7 47.5,588.3 51.5,589.5 55.5,588.3 59.5,588.3 63.5,588.9 67.5,587.6 71.5,589.0 75.5,579.2 79.5,581.1 83.5,584.3 87.5,586.3 91.5,587.5 95.5,590.6 99.5,596.9 103.5,598.0 107.5,598.4 111.5,598.9 115.5,587.1 119.5,585.3 123.5,584.4 127.5,586.5 131.5,581.1 135.5,584.8 139.5,588.4 143.5,577.5 147.5,577.5 151.5,579.0 155.5,586.0 159.5,578.4 163.5,579.5 167.5,580.8 171.5,585.6 175.5,583.6 179.5,586.5 183.5,585.1 187.5,590.2 191.5,591.1 195.5,590.4 199.5,591.0 203.5,594.3 207.5,589.4 211.5,586.0 215.5,579.8 219.5,582.4 223.5,580.6 227.5,580.3 231.5,585.2 235.5,581.1 239.5,575.3 243.5,572.6 247.5,572.2 251.5,575.3 255.5,573.6 259.5,568.6 263.5,563.5 267.5,561.4 271.5,560.8 275.5,564.3 279.5,565.8 283.5,569.3 287.5,573.2 291.5,575.6 295.5,575.8 299.5,573.7 303.5,570.3 307.5,569.2 311.5,565.2 315.5,563.6 319.5,565.3 323.5,567.8 327.5,582.4 331.5,580.9 335.5,585.0 339.5,588.2 343.5,588.2 347.5,585.3 351.5,588.4 355.5,589.0 359.5,589.8 363.5,580.2 367.5,579.4 371.5,575.6 375.5,576.4 379.5,577.9 383.5,576.4 387.5,583.9 391.5,585.1 395.5,587.0 399.5,587.3 403.5,589.3 407.5,586.9 411.5,581.7 415.5,584.4 419.5,573.7 423.5,572.0 427.5,571.3 431.5,570.3 435.5,579.2 439.5,578.6 443.5,575.7 447.5,572.0 451.5,573.4 455.5,568.2 459.5,565.6 463.5,570.3 467.5,567.4 471.5,564.9 475.5,571.7 479.5,573.6 483.5,579.3 487.5,581.9 491.5,578.0 495.5,577.7 499.5,579.2 503.5,576.2 507.5,567.1 511.5,564.6 515.5,562.6 519.5,560.4 523.5,562.2 527.5,566.4 531.5,573.0 535.5,572.3 539.5,569.4 543.5,577.9 547.5,581.3 551.5,583.8 555.5,581.5 559.5,580.5 563.5,578.3 567.5,580.4 571.5,575.2 575.5,577.6 579.5,584.8 583.5,584.8 587.5,586.4 591.5,582.7 595.5,586.7 599.5,590.3 603.5,592.9 607.5,591.5 611.5,593.6 615.5,595.2 619.5,595.2 623.5,586.0 627.5,577.8 631.5,577.0 635.5,582.8 639.5,584.6 643.5,589.5 647.5,592.2 651.5,594.0 655.5,595.6 659.5,597.5 663.5,598.3 667.5,600.1 671.5,603.7 675.5,604.0 679.5,604.3 683.5,605.0 687.5,605.8 691.5,607.7 695.5,604.2 699.5,592.3 703.5,591.0 707.5,590.8 711.5,589.1 715.5,589.1 719.5,569.2 723.5,569.0 727.5,564.4 731.5,556.6 735.5,554.0 739.5,560.7 743.5,557.7 747.5,552.4 751.5,552.0 755.5,548.8 759.5,558.5 763.5,564.5 767.5,579.6 771.5,580.3 775.5,580.1 779.5,575.9 783.5,585.3 787.5,591.4 791.5,595.8 795.5,596.3 799.5,597.2 803.5,589.8 807.5,587.6 811.5,585.1 815.5,575.2 819.5,573.9 823.5,571.2 827.5,576.9 831.5,576.9 835.5,581.0 839.5,584.2 843.5,587.0 847.5,585.9 851.5,586.3 855.5,581.2 859.5,582.5 863.5,578.4 867.5,577.5 871.5,578.5 875.5,580.2 879.5,576.1 883.5,579.9 887.5,584.0 891.5,581.0 895.5,582.0 899.5,580.8 903.5,582.7 907.5,584.3 911.5,585.4 915.5,586.4 919.5,586.5 923.5,583.4 927.5,582.5 931.5,580.5 935.5,573.7 939.5,569.0 943.5,571.3 947.5,577.4 951.5,582.6 955.5,585.1 959.5,584.3 963.5,580.0 967.5,581.8 971.5,583.5 975.5,579.4 979.5,581.6 983.5,584.9 987.5,582.7 991.5,583.2 995.5,574.7 999.5,572.1 1003.5,569.0 1007.5,572.0 1011.5,577.6 1015.5,576.9 1019.5,577.6 1023.5,571.2 1027.5,571.6 1031.5,564.6 1035.5,562.6 1039.5,563.6 1043.5,562.2 1047.5,559.7 1051.5,556.1 1055.5,553.3 1059.5,556.6 1063.5,556.9 1067.5,557.3 1071.5,554.7 1075.5,554.4 1079.5,553.4 1083.5,568.9 1087.5,570.6 1091.5,568.0 1095.5,569.5 1099.5,573.4 1103.5,573.7 1107.5,576.5 1111.5,576.8 1115.5,570.3 1119.5,566.0 1123.5,571.8 1127.5,576.4 1131.5,576.7 1135.5,575.6 1139.5,574.6 1143.5,574.8 1147.5,572.6 1151.5,575.7 1155.5,575.1 1159.5,575.1 1163.5,568.2 1167.5,569.9 1171.5,567.0 1175.5,571.5 1179.5,569.5 1183.5,572.4 1187.5,566.0 1191.5,563.1 1195.5,563.1 1199.5,561.1 1203.5,560.8 1207.5,561.8 1211.5,560.7 1215.5,557.1 1219.5,552.2 1223.5,550.5 1227.5,550.1 1231.5,550.1 1235.5,546.1 1239.5,549.6 1243.5,548.2 1247.5,547.6 1251.5,546.6 1255.5,552.6 1259.5,558.7 1263.5,557.6 1267.5,555.7" fill="none" stroke="#1e90ff" stroke-width="1" shape-rendering="crispEdges"/>
<text x="6.55" y="545" font-size="10" fill="#000" textLength="68.55" lengthAdjust="spacingAndGlyphs" stroke="#000" stroke-width="0.3">RSI(14) 76.3925</text>
<text x="1598.30" y="543" font-size="10" fill="#000" textLength="15.35" lengthAdjust="spacingAndGlyphs" stroke="#000" stroke-width="0.3">100</text>
<text x="1598.30" y="564" font-size="10" fill="#000" textLength="10.23" lengthAdjust="spacingAndGlyphs" stroke="#000" stroke-width="0.3">70</text>
<text x="1598.30" y="600" font-size="10" fill="#000" textLength="10.23" lengthAdjust="spacingAndGlyphs" stroke="#000" stroke-width="0.3">30</text>
<text x="1598.30" y="621" font-size="10" fill="#000" textLength="5.12" lengthAdjust="spacingAndGlyphs" stroke="#000" stroke-width="0.3">0</text>
<rect x="1596" y="532" width="2" height="1" fill="#000"/>
<rect x="1596" y="560" width="2" height="1" fill="#000"/>
<rect x="1596" y="596" width="2" height="1" fill="#000"/>
<rect x="1596" y="623" width="2" height="1" fill="#000"/>
<g clip-path="url(#cd)" shape-rendering="crispEdges">
<rect x="3" y="683" width="1" height="15" fill="#c0c0c0"/>
<rect x="7" y="683" width="1" height="15" fill="#c0c0c0"/>
<rect x="11" y="683" width="1" height="12" fill="#c0c0c0"/>
<rect x="15" y="683" width="1" height="10" fill="#c0c0c0"/>
<rect x="19" y="683" width="1" height="7" fill="#c0c0c0"/>
<rect x="23" y="683" width="1" height="6" fill="#c0c0c0"/>
<rect x="27" y="683" width="1" height="4" fill="#c0c0c0"/>
<rect x="31" y="683" width="1" height="3" fill="#c0c0c0"/>
<rect x="35" y="683" width="1" height="2" fill="#c0c0c0"/>
<rect x="39" y="683" width="1" height="2" fill="#c0c0c0"/>
<rect x="43" y="683" width="1" height="3" fill="#c0c0c0"/>
<rect x="47" y="683" width="1" height="6" fill="#c0c0c0"/>
<rect x="51" y="683" width="1" height="8" fill="#c0c0c0"/>
<rect x="55" y="683" width="1" height="9" fill="#c0c0c0"/>
<rect x="59" y="683" width="1" height="10" fill="#c0c0c0"/>
<rect x="63" y="683" width="1" height="11" fill="#c0c0c0"/>
<rect x="67" y="683" width="1" height="11" fill="#c0c0c0"/>
<rect x="71" y="683" width="1" height="11" fill="#c0c0c0"/>
<rect x="75" y="683" width="1" height="10" fill="#c0c0c0"/>
<rect x="79" y="683" width="1" height="9" fill="#c0c0c0"/>
<rect x="83" y="683" width="1" height="9" fill="#c0c0c0"/>
<rect x="87" y="683" width="1" height="9" fill="#c0c0c0"/>
<rect x="91" y="683" width="1" height="10" fill="#c0c0c0"/>
<rect x="95" y="683" width="1" height="11" fill="#c0c0c0"/>
<rect x="99" y="683" width="1" height="13" fill="#c0c0c0"/>
<rect x="103" y="683" width="1" height="16" fill="#c0c0c0"/>
<rect x="107" y="683" width="1" height="18" fill="#c0c0c0"/>
<rect x="111" y="683" width="1" height="19" fill="#c0c0c0"/>
<rect x="115" y="683" width="1" height="18" fill="#c0c0c0"/>
<rect x="119" y="683" width="1" height="17" fill="#c0c0c0"/>
<rect x="123" y="683" width="1" height="16" fill="#c0c0c0"/>
<rect x="127" y="683" width="1" height="15" fill="#c0c0c0"/>
<rect x="131" y="683" width="1" height="13" fill="#c0c0c0"/>
<rect x="135" y="683" width="1" height="12" fill="#c0c0c0"/>
<rect x="139" y="683" width="1" height="13" fill="#c0c0c0"/>
<rect x="143" y="683" width="1" height="11" fill="#c0c0c0"/>
<rect x="147" y="683" width="1" height="9" fill="#c0c0c0"/>
<rect x="151" y="683" width="1" height="7" fill="#c0c0c0"/>
<rect x="155" y="683" width="1" height="8" fill="#c0c0c0"/>
<rect x="159" y="683" width="1" height="7" fill="#c0c0c0"/>
<rect x="163" y="683" width="1" height="6" fill="#c0c0c0"/>
<rect x="167" y="683" width="1" height="6" fill="#c0c0c0"/>
<rect x="171" y="683" width="1" height="7" fill="#c0c0c0"/>
<rect x="175" y="683" width="1" height="7" fill="#c0c0c0"/>
<rect x="179" y="683" width="1" height="8" fill="#c0c0c0"/>
<rect x="183" y="683" width="1" height="8" fill="#c0c0c0"/>
<rect x="187" y="683" width="1" height="10" fill="#c0c0c0"/>
<rect x="191" y="683" width="1" height="12" fill="#c0c0c0"/>
<rect x="195" y="683" width="1" height="13" fill="#c0c0c0"/>
<rect x="199" y="683" width="1" height="13" fill="#c0c0c0"/>
<rect x="203" y="683" width="1" height="15" fill="#c0c0c0"/>
<rect x="207" y="683" width="1" height="15" fill="#c0c0c0"/>
<rect x="211" y="683" width="1" height="15" fill="#c0c0c0"/>
<rect x="215" y="683" width="1" height="13" fill="#c0c0c0"/>
<rect x="219" y="683" width="1" height="12" fill="#c0c0c0"/>
<rect x="223" y="683" width="1" height="10" fill="#c0c0c0"/>
<rect x="227" y="683" width="1" height="9" fill="#c0c0c0"/>
<rect x="231" y="683" width="1" height="9" fill="#c0c0c0"/>
<rect x="235" y="683" width="1" height="8" fill="#c0c0c0"/>
<rect x="239" y="683" width="1" height="6" fill="#c0c0c0"/>
<rect x="243" y="683" width="1" height="4" fill="#c0c0c0"/>
<rect x="247" y="683" width="1" height="2" fill="#c0c0c0"/>
<rect x="251" y="683" width="1" height="1" fill="#c0c0c0"/>
<rect x="255" y="682" width="1" height="2" fill="#c0c0c0"/>
<rect x="259" y="680" width="1" height="4" fill="#c0c0c0"/>
<rect x="263" y="677" width="1" height="7" fill="#c0c0c0"/>
<rect x="267" y="673" width="1" height="11" fill="#c0c0c0"/>
<rect x="271" y="671" width="1" height="13" fill="#c0c0c0"/>
<rect x="275" y="669" width="1" height="15" fill="#c0c0c0"/>
<rect x="279" y="669" width="1" height="15" fill="#c0c0c0"/>
<rect x="283" y="669" width="1" height="15" fill="#c0c0c0"/>
<rect x="287" y="670" width="1" height="14" fill="#c0c0c0"/>
<rect x="291" y="671" width="1" height="13" fill="#c0c0c0"/>
<rect x="295" y="672" width="1" height="12" fill="#c0c0c0"/>
<rect x="299" y="673" width="1" height="11" fill="#c0c0c0"/>
<rect x="303" y="673" width="1" height="11" fill="#c0c0c0"/>
<rect x="307" y="673" width="1" height="11" fill="#c0c0c0"/>
<rect x="311" y="672" width="1" height="12" fill="#c0c0c0"/>
<rect x="315" y="671" width="1" height="13" fill="#c0c0c0"/>
<rect x="319" y="670" width="1" height="14" fill="#c0c0c0"/>
<rect x="323" y="670" width="1" height="14" fill="#c0c0c0"/>
<rect x="327" y="673" width="1" height="11" fill="#c0c0c0"/>
<rect x="331" y="675" width="1" height="9" fill="#c0c0c0"/>
<rect x="335" y="678" width="1" height="6" fill="#c0c0c0"/>
<rect x="339" y="680" width="1" height="4" fill="#c0c0c0"/>
<rect x="343" y="683" width="1" height="1" fill="#c0c0c0"/>
<rect x="347" y="683" width="1" height="2" fill="#c0c0c0"/>
<rect x="351" y="683" width="1" height="4" fill="#c0c0c0"/>
<rect x="355" y="683" width="1" height="5" fill="#c0c0c0"/>
<rect x="359" y="683" width="1" height="7" fill="#c0c0c0"/>
<rect x="363" y="683" width="1" height="6" fill="#c0c0c0"/>
<rect x="367" y="683" width="1" height="5" fill="#c0c0c0"/>
<rect x="371" y="683" width="1" height="4" fill="#c0c0c0"/>
<rect x="375" y="683" width="1" height="3" fill="#c0c0c0"/>
<rect x="379" y="683" width="1" height="3" fill="#c0c0c0"/>
<rect x="383" y="683" width="1" height="2" fill="#c0c0c0"/>
<rect x="387" y="683" width="1" height="3" fill="#c0c0c0"/>
<rect x="391" y="683" width="1" height="4" fill="#c0c0c0"/>
<rect x="395" y="683" width="1" height="5" fill="#c0c0c0"/>
<rect x="399" y="683" width="1" height="5" fill="#c0c0c0"/>
<rect x="403" y="683" width="1" height="6" fill="#c0c0c0"/>
<rect x="407" y="683" width="1" height="7" fill="#c0c0c0"/>
<rect x="411" y="683" width="1" height="6" fill="#c0c0c0"/>
<rect x="415" y="683" width="1" height="6" fill="#c0c0c0"/>
<rect x="419" y="683" width="1" height="4" fill="#c0c0c0"/>
<rect x="423" y="683" width="1" height="3" fill="#c0c0c0"/>
<rect x="427" y="683" width="1" height="1" fill="#c0c0c0"/>
<rect x="431" y="682" width="1" height="2" fill="#c0c0c0"/>
<rect x="435" y="682" width="1" height="2" fill="#c0c0c0"/>
<rect x="439" y="682" width="1" height="2" fill="#c0c0c0"/>
<rect x="443" y="682" width="1" height="2" fill="#c0c0c0"/>
<rect x="447" y="681" width="1" height="3" fill="#c0c0c0"/>
<rect x="451" y="680" width="1" height="4" fill="#c0c0c0"/>
<rect x="455" y="679" width="1" height="5" fill="#c0c0c0"/>
<rect x="459" y="677" width="1" height="7" fill="#c0c0c0"/>
<rect x="463" y="676" width="1" height="8" fill="#c0c0c0"/>
<rect x="467" y="675" width="1" height="9" fill="#c0c0c0"/>
<rect x="471" y="674" width="1" height="10" fill="#c0c0c0"/>
<rect x="475" y="674" width="1" height="10" fill="#c0c0c0"/>
<rect x="479" y="675" width="1" height="9" fill="#c0c0c0"/>
<rect x="483" y="676" width="1" height="8" fill="#c0c0c0"/>
<rect x="487" y="678" width="1" height="6" fill="#c0c0c0"/>
<rect x="491" y="678" width="1" height="6" fill="#c0c0c0"/>
<rect x="495" y="679" width="1" height="5" fill="#c0c0c0"/>
<rect x="499" y="679" width="1" height="5" fill="#c0c0c0"/>
<rect x="503" y="680" width="1" height="4" fill="#c0c0c0"/>
<rect x="507" y="678" width="1" height="6" fill="#c0c0c0"/>
<rect x="511" y="676" width="1" height="8" fill="#c0c0c0"/>
<rect x="515" y="674" width="1" height="10" fill="#c0c0c0"/>
<rect x="519" y="672" width="1" height="12" fill="#c0c0c0"/>
<rect x="523" y="670" width="1" height="14" fill="#c0c0c0"/>
<rect x="527" y="670" width="1" height="14" fill="#c0c0c0"/>
<rect x="531" y="671" width="1" height="13" fill="#c0c0c0"/>
<rect x="535" y="671" width="1" height="13" fill="#c0c0c0"/>
<rect x="539" y="671" width="1" height="13" fill="#c0c0c0"/>
<rect x="543" y="673" width="1" height="11" fill="#c0c0c0"/>
<rect x="547" y="675" width="1" height="9" fill="#c0c0c0"/>
<rect x="551" y="677" width="1" height="7" fill="#c0c0c0"/>
<rect x="555" y="679" width="1" height="5" fill="#c0c0c0"/>
<rect x="559" y="680" width="1" height="4" fill="#c0c0c0"/>
<rect x="563" y="680" width="1" height="4" fill="#c0c0c0"/>
<rect x="567" y="681" width="1" height="3" fill="#c0c0c0"/>
<rect x="571" y="681" width="1" height="3" fill="#c0c0c0"/>
<rect x="575" y="681" width="1" height="3" fill="#c0c0c0"/>
<rect x="579" y="682" width="1" height="2" fill="#c0c0c0"/>
<rect x="583" y="683" width="1" height="1" fill="#c0c0c0"/>
<rect x="587" y="683" width="1" height="3" fill="#c0c0c0"/>
<rect x="591" y="683" width="1" height="3" fill="#c0c0c0"/>
<rect x="595" y="683" width="1" height="4" fill="#c0c0c0"/>
<rect x="599" y="683" width="1" height="6" fill="#c0c0c0"/>
<rect x="603" y="683" width="1" height="8" fill="#c0c0c0"/>
<rect x="607" y="683" width="1" height="9" fill="#c0c0c0"/>
<rect x="611" y="683" width="1" height="10" fill="#c0c0c0"/>
<rect x="615" y="683" width="1" height="12" fill="#c0c0c0"/>
<rect x="619" y="683" width="1" height="13" fill="#c0c0c0"/>
<rect x="623" y="683" width="1" height="12" fill="#c0c0c0"/>
<rect x="627" y="683" width="1" height="10" fill="#c0c0c0"/>
<rect x="631" y="683" width="1" height="8" fill="#c0c0c0"/>
<rect x="635" y="683" width="1" height="8" fill="#c0c0c0"/>
<rect x="639" y="683" width="1" height="8" fill="#c0c0c0"/>
<rect x="643" y="683" width="1" height="9" fill="#c0c0c0"/>
<rect x="647" y="683" width="1" height="11" fill="#c0c0c0"/>
<rect x="651" y="683" width="1" height="12" fill="#c0c0c0"/>
<rect x="655" y="683" width="1" height="14" fill="#c0c0c0"/>
<rect x="659" y="683" width="1" height="15" fill="#c0c0c0"/>
<rect x="663" y="683" width="1" height="17" fill="#c0c0c0"/>
<rect x="667" y="683" width="1" height="18" fill="#c0c0c0"/>
<rect x="671" y="683" width="1" height="21" fill="#c0c0c0"/>
<rect x="675" y="683" width="1" height="23" fill="#c0c0c0"/>
<rect x="679" y="683" width="1" height="24" fill="#c0c0c0"/>
<rect x="683" y="683" width="1" height="25" fill="#c0c0c0"/>
<rect x="687" y="683" width="1" height="26" fill="#c0c0c0"/>
<rect x="691" y="683" width="1" height="27" fill="#c0c0c0"/>
<rect x="695" y="683" width="1" height="27" fill="#c0c0c0"/>
<rect x="699" y="683" width="1" height="26" fill="#c0c0c0"/>
<rect x="703" y="683" width="1" height="24" fill="#c0c0c0"/>
<rect x="707" y="683" width="1" height="23" fill="#c0c0c0"/>
<rect x="711" y="683" width="1" height="21" fill="#c0c0c0"/>
<rect x="715" y="683" width="1" height="19" fill="#c0c0c0"/>
<rect x="719" y="683" width="1" height="14" fill="#c0c0c0"/>
<rect x="723" y="683" width="1" height="10" fill="#c0c0c0"/>
<rect x="727" y="683" width="1" height="5" fill="#c0c0c0"/>
<rect x="731" y="680" width="1" height="4" fill="#c0c0c0"/>
<rect x="735" y="674" width="1" height="10" fill="#c0c0c0"/>
<rect x="739" y="670" width="1" height="14" fill="#c0c0c0"/>
<rect x="743" y="665" width="1" height="19" fill="#c0c0c0"/>
<rect x="747" y="658" width="1" height="26" fill="#c0c0c0"/>
<rect x="751" y="653" width="1" height="31" fill="#c0c0c0"/>
<rect x="755" y="646" width="1" height="38" fill="#c0c0c0"/>
<rect x="759" y="643" width="1" height="41" fill="#c0c0c0"/>
<rect x="763" y="643" width="1" height="41" fill="#c0c0c0"/>
<rect x="767" y="650" width="1" height="34" fill="#c0c0c0"/>
<rect x="771" y="656" width="1" height="28" fill="#c0c0c0"/>
<rect x="775" y="661" width="1" height="23" fill="#c0c0c0"/>
<rect x="779" y="663" width="1" height="21" fill="#c0c0c0"/>
<rect x="783" y="670" width="1" height="14" fill="#c0c0c0"/>
<rect x="787" y="680" width="1" height="4" fill="#c0c0c0"/>
<rect x="791" y="683" width="1" height="9" fill="#c0c0c0"/>
<rect x="795" y="683" width="1" height="19" fill="#c0c0c0"/>
<rect x="799" y="683" width="1" height="27" fill="#c0c0c0"/>
<rect x="803" y="683" width="1" height="30" fill="#c0c0c0"/>
<rect x="807" y="683" width="1" height="31" fill="#c0c0c0"/>
<rect x="811" y="683" width="1" height="30" fill="#c0c0c0"/>
<rect x="815" y="683" width="1" height="23" fill="#c0c0c0"/>
<rect x="819" y="683" width="1" height="16" fill="#c0c0c0"/>
<rect x="823" y="683" width="1" height="9" fill="#c0c0c0"/>
<rect x="827" y="683" width="1" height="7" fill="#c0c0c0"/>
<rect x="831" y="683" width="1" height="5" fill="#c0c0c0"/>
<rect x="835" y="683" width="1" height="6" fill="#c0c0c0"/>
<rect x="839" y="683" width="1" height="8" fill="#c0c0c0"/>
<rect x="843" y="683" width="1" height="12" fill="#c0c0c0"/>
<rect x="847" y="683" width="1" height="15" fill="#c0c0c0"/>
<rect x="851" y="683" width="1" height="17" fill="#c0c0c0"/>
<rect x="855" y="683" width="1" height="16" fill="#c0c0c0"/>
<rect x="859" y="683" width="1" height="16" fill="#c0c0c0"/>
<rect x="863" y="683" width="1" height="13" fill="#c0c0c0"/>
<rect x="867" y="683" width="1" height="11" fill="#c0c0c0"/>
<rect x="871" y="683" width="1" height="9" fill="#c0c0c0"/>
<rect x="875" y="683" width="1" height="8" fill="#c0c0c0"/>
<rect x="879" y="683" width="1" height="6" fill="#c0c0c0"/>
<rect x="883" y="683" width="1" height="6" fill="#c0c0c0"/>
<rect x="887" y="683" width="1" height="8" fill="#c0c0c0"/>
<rect x="891" y="683" width="1" height="8" fill="#c0c0c0"/>
<rect x="895" y="683" width="1" height="8" fill="#c0c0c0"/>
<rect x="899" y="683" width="1" height="8" fill="#c0c0c0"/>
<rect x="903" y="683" width="1" height="9" fill="#c0c0c0"/>
<rect x="907" y="683" width="1" height="10" fill="#c0c0c0"/>
<rect x="911" y="683" width="1" height="11" fill="#c0c0c0"/>
<rect x="915" y="683" width="1" height="12" fill="#c0c0c0"/>
<rect x="919" y="683" width="1" height="14" fill="#c0c0c0"/>
<rect x="923" y="683" width="1" height="13" fill="#c0c0c0"/>
<rect x="927" y="683" width="1" height="13" fill="#c0c0c0"/>
<rect x="931" y="683" width="1" height="11" fill="#c0c0c0"/>
<rect x="935" y="683" width="1" height="8" fill="#c0c0c0"/>
<rect x="939" y="683" width="1" height="3" fill="#c0c0c0"/>
<rect x="943" y="682" width="1" height="2" fill="#c0c0c0"/>
<rect x="947" y="681" width="1" height="3" fill="#c0c0c0"/>
<rect x="951" y="683" width="1" height="1" fill="#c0c0c0"/>
<rect x="955" y="683" width="1" height="4" fill="#c0c0c0"/>
<rect x="959" y="683" width="1" height="5" fill="#c0c0c0"/>
<rect x="963" y="683" width="1" height="5" fill="#c0c0c0"/>
<rect x="967" y="683" width="1" height="6" fill="#c0c0c0"/>
<rect x="971" y="683" width="1" height="7" fill="#c0c0c0"/>
<rect x="975" y="683" width="1" height="6" fill="#c0c0c0"/>
<rect x="979" y="683" width="1" height="6" fill="#c0c0c0"/>
<rect x="983" y="683" width="1" height="7" fill="#c0c0c0"/>
<rect x="987" y="683" width="1" height="8" fill="#c0c0c0"/>
<rect x="991" y="683" width="1" height="8" fill="#c0c0c0"/>
<rect x="995" y="683" width="1" height="5" fill="#c0c0c0"/>
<rect x="999" y="683" width="1" height="2" fill="#c0c0c0"/>
<rect x="1003" y="681" width="1" height="3" fill="#c0c0c0"/>
<rect x="1007" y="679" width="1" height="5" fill="#c0c0c0"/>
<rect x="1011" y="679" width="1" height="5" fill="#c0c0c0"/>
<rect x="1015" y="679" width="1" height="5" fill="#c0c0c0"/>
<rect x="1019" y="679" width="1" height="5" fill="#c0c0c0"/>
<rect x="1023" y="677" width="1" height="7" fill="#c0c0c0"/>
<rect x="1027" y="675" width="1" height="9" fill="#c0c0c0"/>
<rect x="1031" y="671" width="1" height="13" fill="#c0c0c0"/>
<rect x="1035" y="667" width="1" height="17" fill="#c0c0c0"/>
<rect x="1039" y="664" width="1" height="20" fill="#c0c0c0"/>
<rect x="1043" y="661" width="1" height="23" fill="#c0c0c0"/>
<rect x="1047" y="658" width="1" height="26" fill="#c0c0c0"/>
<rect x="1051" y="653" width="1" height="31" fill="#c0c0c0"/>
<rect x="1055" y="647" width="1" height="37" fill="#c0c0c0"/>
<rect x="1059" y="644" width="1" height="40" fill="#c0c0c0"/>
<rect x="1063" y="642" width="1" height="42" fill="#c0c0c0"/>
<rect x="1067" y="641" width="1" height="43" fill="#c0c0c0"/>
<rect x="1071" y="639" width="1" height="45" fill="#c0c0c0"/>
<rect x="1075" y="638" width="1" height="46" fill="#c0c0c0"/>
<rect x="1079" y="636" width="1" height="48" fill="#c0c0c0"/>
<rect x="1083" y="640" width="1" height="44" fill="#c0c0c0"/>
<rect x="1087" y="644" width="1" height="40" fill="#c0c0c0"/>
<rect x="1091" y="646" width="1" height="38" fill="#c0c0c0"/>
<rect x="1095" y="648" width="1" height="36" fill="#c0c0c0"/>
<rect x="1099" y="652" width="1" height="32" fill="#c0c0c0"/>
<rect x="1103" y="655" width="1" height="29" fill="#c0c0c0"/>
<rect x="1107" y="659" width="1" height="25" fill="#c0c0c0"/>
<rect x="1111" y="662" width="1" height="22" fill="#c0c0c0"/>
<rect x="1115" y="663" width="1" height="21" fill="#c0c0c0"/>
<rect x="1119" y="661" width="1" height="23" fill="#c0c0c0"/>
<rect x="1123" y="662" width="1" height="22" fill="#c0c0c0"/>
<rect x="1127" y="665" width="1" height="19" fill="#c0c0c0"/>
<rect x="1131" y="667" width="1" height="17" fill="#c0c0c0"/>
<rect x="1135" y="668" width="1" height="16" fill="#c0c0c0"/>
<rect x="1139" y="669" width="1" height="15" fill="#c0c0c0"/>
<rect x="1143" y="670" width="1" height="14" fill="#c0c0c0"/>
<rect x="1147" y="671" width="1" height="13" fill="#c0c0c0"/>
<rect x="1151" y="672" width="1" height="12" fill="#c0c0c0"/>
<rect x="1155" y="673" width="1" height="11" fill="#c0c0c0"/>
<rect x="1159" y="673" width="1" height="11" fill="#c0c0c0"/>
<rect x="1163" y="672" width="1" height="12" fill="#c0c0c0"/>
<rect x="1167" y="671" width="1" height="13" fill="#c0c0c0"/>
<rect x="1171" y="670" width="1" height="14" fill="#c0c0c0"/>
<rect x="1175" y="670" width="1" height="14" fill="#c0c0c0"/>
<rect x="1179" y="670" width="1" height="14" fill="#c0c0c0"/>
<rect x="1183" y="670" width="1" height="14" fill="#c0c0c0"/>
<rect x="1187" y="668" width="1" height="16" fill="#c0c0c0"/>
<rect x="1191" y="666" width="1" height="18" fill="#c0c0c0"/>
<rect x="1195" y="664" width="1" height="20" fill="#c0c0c0"/>
<rect x="1199" y="663" width="1" height="21" fill="#c0c0c0"/>
<rect x="1203" y="661" width="1" height="23" fill="#c0c0c0"/>
<rect x="1207" y="660" width="1" height="24" fill="#c0c0c0"/>
<rect x="1211" y="660" width="1" height="24" fill="#c0c0c0"/>
<rect x="1215" y="658" width="1" height="26" fill="#c0c0c0"/>
<rect x="1219" y="654" width="1" height="30" fill="#c0c0c0"/>
<rect x="1223" y="650" width="1" height="34" fill="#c0c0c0"/>
<rect x="1227" y="647" width="1" height="37" fill="#c0c0c0"/>
<rect x="1231" y="645" width="1" height="39" fill="#c0c0c0"/>
<rect x="1235" y="641" width="1" height="43" fill="#c0c0c0"/>
<rect x="1239" y="638" width="1" height="46" fill="#c0c0c0"/>
<rect x="1243" y="635" width="1" height="49" fill="#c0c0c0"/>
<rect x="1247" y="633" width="1" height="51" fill="#c0c0c0"/>
<rect x="1251" y="631" width="1" height="53" fill="#c0c0c0"/>
<rect x="1255" y="631" width="1" height="53" fill="#c0c0c0"/>
<rect x="1259" y="633" width="1" height="51" fill="#c0c0c0"/>
<rect x="1263" y="634" width="1" height="50" fill="#c0c0c0"/>
<rect x="1267" y="635" width="1" height="49" fill="#c0c0c0"/>
</g>
<polyline clip-path="url(#cd)" points="-0.5,693.7 3.5,694.5 7.5,695.3 11.5,695.5 15.5,695.4 19.5,694.8 23.5,693.9 27.5,692.8 31.5,691.6 35.5,690.1 39.5,688.7 43.5,687.4 47.5,686.7 51.5,686.4 55.5,686.6 59.5,687.1 63.5,687.8 67.5,688.7 71.5,689.7 75.5,690.6 79.5,691.2 83.5,691.5 87.5,691.7 91.5,691.8 95.5,691.9 99.5,692.2 103.5,692.8 107.5,693.5 111.5,694.5 115.5,695.6 119.5,696.5 123.5,697.2 127.5,697.8 131.5,698.1 135.5,698.0 139.5,697.7 143.5,696.9 147.5,695.7 151.5,694.5 155.5,693.5 159.5,692.6 163.5,691.6 167.5,690.8 171.5,690.1 175.5,689.5 179.5,689.2 183.5,689.2 187.5,689.5 191.5,689.9 195.5,690.5 199.5,691.3 203.5,692.4 207.5,693.3 211.5,694.1 215.5,694.6 219.5,695.0 223.5,695.0 227.5,694.7 231.5,694.3 235.5,693.8 239.5,692.8 243.5,691.5 247.5,690.2 251.5,688.9 255.5,687.6 259.5,686.2 263.5,684.6 267.5,682.6 271.5,680.4 275.5,678.3 279.5,676.3 283.5,674.6 287.5,673.2 291.5,672.0 295.5,671.2 299.5,670.8 303.5,670.8 307.5,671.0 311.5,671.3 315.5,671.5 319.5,671.6 323.5,671.7 327.5,671.9 331.5,672.2 335.5,672.7 339.5,673.5 343.5,674.6 347.5,676.0 351.5,677.7 355.5,679.6 359.5,681.6 363.5,683.3 367.5,684.7 371.5,685.6 375.5,686.1 379.5,686.3 383.5,686.3 387.5,686.2 391.5,686.0 395.5,685.7 399.5,685.7 403.5,685.8 407.5,686.1 411.5,686.4 415.5,686.8 419.5,687.1 423.5,687.1 427.5,686.8 431.5,686.3 435.5,685.7 439.5,685.0 443.5,684.2 447.5,683.4 451.5,682.5 455.5,681.6 459.5,680.7 463.5,680.0 467.5,679.3 471.5,678.4 475.5,677.6 479.5,676.8 483.5,676.2 487.5,676.0 491.5,675.9 495.5,676.1 499.5,676.5 503.5,676.9 507.5,677.3 511.5,677.5 515.5,677.4 519.5,677.0 523.5,676.1 527.5,675.2 531.5,674.3 535.5,673.4 539.5,672.5 543.5,672.0 547.5,671.9 551.5,672.3 555.5,673.1 559.5,674.2 563.5,675.3 567.5,676.5 571.5,677.5 575.5,678.5 579.5,679.5 583.5,680.4 587.5,681.3 591.5,682.0 595.5,682.7 599.5,683.6 603.5,684.6 607.5,685.7 611.5,687.0 615.5,688.3 619.5,689.6 623.5,690.7 627.5,691.4 631.5,691.9 635.5,692.1 639.5,692.2 643.5,692.2 647.5,692.2 651.5,692.2 655.5,692.3 659.5,692.7 663.5,693.4 667.5,694.5 671.5,695.9 675.5,697.5 679.5,699.2 683.5,700.8 687.5,702.3 691.5,703.8 695.5,705.1 699.5,706.1 703.5,706.8 707.5,707.0 711.5,706.8 715.5,706.2 719.5,705.0 723.5,703.3 727.5,700.8 731.5,697.6 735.5,693.8 739.5,689.7 743.5,685.4 747.5,680.4 751.5,675.0 755.5,669.4 759.5,664.0 763.5,659.0 767.5,655.7 771.5,653.7 775.5,652.7 779.5,652.4 783.5,653.7 787.5,656.7 791.5,661.8 795.5,668.2 799.5,675.6 803.5,682.5 807.5,688.8 811.5,694.5 815.5,699.2 819.5,702.4 823.5,703.7 827.5,703.4 831.5,701.8 835.5,699.4 839.5,697.0 843.5,694.9 847.5,693.2 851.5,692.6 855.5,692.5 859.5,693.2 863.5,693.9 867.5,694.6 871.5,695.0 875.5,695.0 879.5,694.3 883.5,693.2 887.5,692.2 891.5,691.3 895.5,690.4 899.5,689.8 903.5,689.6 907.5,689.7 911.5,690.0 915.5,690.8 919.5,691.6 923.5,692.3 927.5,692.8 931.5,693.2 935.5,693.1 939.5,692.5 943.5,691.4 947.5,690.1 951.5,688.9 955.5,687.8 959.5,686.9 963.5,686.1 967.5,685.5 971.5,685.3 975.5,685.6 979.5,686.3 983.5,687.2 987.5,687.9 991.5,688.4 995.5,688.4 999.5,688.1 1003.5,687.4 1007.5,686.2 1011.5,685.2 1015.5,684.2 1019.5,683.0 1023.5,681.6 1027.5,680.0 1031.5,678.2 1035.5,676.2 1039.5,674.4 1043.5,672.4 1047.5,670.1 1051.5,667.3 1055.5,663.7 1059.5,660.1 1063.5,656.4 1067.5,653.1 1071.5,650.0 1075.5,647.1 1079.5,644.4 1083.5,642.4 1087.5,641.3 1091.5,641.1 1095.5,641.6 1099.5,642.7 1103.5,644.2 1107.5,646.4 1111.5,649.1 1115.5,652.0 1119.5,654.4 1123.5,656.4 1127.5,658.5 1131.5,660.6 1135.5,662.4 1139.5,664.0 1143.5,665.3 1147.5,666.2 1151.5,667.2 1155.5,668.5 1159.5,669.7 1163.5,670.5 1167.5,671.0 1171.5,671.2 1175.5,671.3 1179.5,671.2 1183.5,671.2 1187.5,670.8 1191.5,670.1 1195.5,669.1 1199.5,668.1 1203.5,666.9 1207.5,665.9 1211.5,664.7 1215.5,663.5 1219.5,661.7 1223.5,659.7 1227.5,657.6 1231.5,655.4 1235.5,653.0 1239.5,650.4 1243.5,647.6 1247.5,644.7 1251.5,641.7 1255.5,639.1 1259.5,637.2 1263.5,635.8 1267.5,634.6" fill="none" stroke="#ff0000" stroke-width="1" shape-rendering="crispEdges" stroke-dasharray="3,3"/>
<text x="6.55" y="639" font-size="10" fill="#000" textLength="148.42" lengthAdjust="spacingAndGlyphs" stroke="#000" stroke-width="0.3">MACD(12,26,9) 0.012510 0.012560</text>
<text x="1598.80" y="637" font-size="10" fill="#000" textLength="38.37" lengthAdjust="spacingAndGlyphs" stroke="#000" stroke-width="0.3">0.014556</text>
<text x="1598.80" y="687" font-size="10" fill="#000" textLength="17.91" lengthAdjust="spacingAndGlyphs" stroke="#000" stroke-width="0.3">0.00</text>
<text x="1598.80" y="715" font-size="10" fill="#000" textLength="41.44" lengthAdjust="spacingAndGlyphs" stroke="#000" stroke-width="0.3">-0.009001</text>
<rect x="1596" y="627" width="2" height="1" fill="#000"/>
<rect x="1596" y="683" width="2" height="1" fill="#000"/>
<rect x="1596" y="717" width="2" height="1" fill="#000"/>
<rect x="3" y="719" width="1" height="3" fill="#000"/>
<text x="1.50" y="731" font-size="10" fill="#000" textLength="48.08" lengthAdjust="spacingAndGlyphs" stroke="#000" stroke-width="0.3">2 Aug 2019</text>
<rect x="67" y="719" width="1" height="3" fill="#000"/>
<text x="65.50" y="731" font-size="10" fill="#000" textLength="53.36" lengthAdjust="spacingAndGlyphs" stroke="#000" stroke-width="0.3">21 Aug 2019</text>
<rect x="131" y="719" width="1" height="3" fill="#000"/>
<text x="129.50" y="731" font-size="10" fill="#000" textLength="48.60" lengthAdjust="spacingAndGlyphs" stroke="#000" stroke-width="0.3">9 Sep 2019</text>
<rect x="195" y="719" width="1" height="3" fill="#000"/>
<text x="193.50" y="731" font-size="10" fill="#000" textLength="53.88" lengthAdjust="spacingAndGlyphs" stroke="#000" stroke-width="0.3">27 Sep 2019</text>
<rect x="259" y="719" width="1" height="3" fill="#000"/>
<text x="257.50" y="731" font-size="10" fill="#000" textLength="51.76" lengthAdjust="spacingAndGlyphs" stroke="#000" stroke-width="0.3">16 Oct 2019</text>
<rect x="323" y="719" width="1" height="3" fill="#000"/>
<text x="321.50" y="731" font-size="10" fill="#000" textLength="48.59" lengthAdjust="spacingAndGlyphs" stroke="#000" stroke-width="0.3">4 Nov 2019</text>
<rect x="387" y="719" width="1" height="3" fill="#000"/>
<text x="385.50" y="731" font-size="10" fill="#000" textLength="53.87" lengthAdjust="spacingAndGlyphs" stroke="#000" stroke-width="0.3">22 Nov 2019</text>
<rect x="451" y="719" width="1" height="3" fill="#000"/>
<text x="449.50" y="731" font-size="10" fill="#000" textLength="53.17" lengthAdjust="spacingAndGlyphs" stroke="#000" stroke-width="0.3">11 Dec 2019</text>
<rect x="515" y="719" width="1" height="3" fill="#000"/>
<text x="513.50" y="731" font-size="10" fill="#000" textLength="53.87" lengthAdjust="spacingAndGlyphs" stroke="#000" stroke-width="0.3">30 Dec 2019</text>
<rect x="579" y="719" width="1" height="3" fill="#000"/>
<text x="577.50" y="731" font-size="10" fill="#000" textLength="52.30" lengthAdjust="spacingAndGlyphs" stroke="#000" stroke-width="0.3">17 Jan 2020</text>
<rect x="643" y="719" width="1" height="3" fill="#000"/>
<text x="641.50" y="731" font-size="10" fill="#000" textLength="48.07" lengthAdjust="spacingAndGlyphs" stroke="#000" stroke-width="0.3">5 Feb 2020</text>
<rect x="707" y="719" width="1" height="3" fill="#000"/>
<text x="705.50" y="731" font-size="10" fill="#000" textLength="53.35" lengthAdjust="spacingAndGlyphs" stroke="#000" stroke-width="0.3">24 Feb 2020</text>
<rect x="771" y="719" width="1" height="3" fill="#000"/>
<text x="769.50" y="731" font-size="10" fill="#000" textLength="53.34" lengthAdjust="spacingAndGlyphs" stroke="#000" stroke-width="0.3">13 Mar 2020</text>
<rect x="835" y="719" width="1" height="3" fill="#000"/>
<text x="833.50" y="731" font-size="10" fill="#000" textLength="45.96" lengthAdjust="spacingAndGlyphs" stroke="#000" stroke-width="0.3">1 Apr 2020</text>
<rect x="899" y="719" width="1" height="3" fill="#000"/>
<text x="897.50" y="731" font-size="10" fill="#000" textLength="51.24" lengthAdjust="spacingAndGlyphs" stroke="#000" stroke-width="0.3">20 Apr 2020</text>
<rect x="963" y="719" width="1" height="3" fill="#000"/>
<text x="961.50" y="731" font-size="10" fill="#000" textLength="49.64" lengthAdjust="spacingAndGlyphs" stroke="#000" stroke-width="0.3">8 May 2020</text>
<rect x="1027" y="719" width="1" height="3" fill="#000"/>
<text x="1025.50" y="731" font-size="10" fill="#000" textLength="54.93" lengthAdjust="spacingAndGlyphs" stroke="#000" stroke-width="0.3">27 May 2020</text>
<rect x="1091" y="719" width="1" height="3" fill="#000"/>
<text x="1089.50" y="731" font-size="10" fill="#000" textLength="52.30" lengthAdjust="spacingAndGlyphs" stroke="#000" stroke-width="0.3">15 Jun 2020</text>
<rect x="1155" y="719" width="1" height="3" fill="#000"/>
<text x="1153.50" y="731" font-size="10" fill="#000" textLength="43.84" lengthAdjust="spacingAndGlyphs" stroke="#000" stroke-width="0.3">3 Jul 2020</text>
<rect x="1219" y="719" width="1" height="3" fill="#000"/>
<text x="1217.50" y="731" font-size="10" fill="#000" textLength="49.12" lengthAdjust="spacingAndGlyphs" stroke="#000" stroke-width="0.3">22 Jul 2020</text>
<path d="M0,6 L2,7 M0,11 L4,8" stroke="#333" stroke-width="1.2" fill="none"/>
<path d="M2,12 L9,12 L5.5,16 Z" fill="#444"/>
<path d="M16,8 L21,8 L18.5,11 Z" fill="#000"/>
<rect x="27" y="0" width="1" height="20" fill="#a0a0a0"/>
<rect x="28" y="0" width="1" height="20" fill="#ffffff"/>
<rect x="31" y="1" width="3" height="1" fill="#a8a8a8"/>
<rect x="31" y="3" width="3" height="1" fill="#a8a8a8"/>
<rect x="31" y="5" width="3" height="1" fill="#a8a8a8"/>
<rect x="31" y="7" width="3" height="1" fill="#a8a8a8"/>
<rect x="31" y="9" width="3" height="1" fill="#a8a8a8"/>
<rect x="31" y="11" width="3" height="1" fill="#a8a8a8"/>
<rect x="31" y="13" width="3" height="1" fill="#a8a8a8"/>
<rect x="31" y="15" width="3" height="1" fill="#a8a8a8"/>
<rect x="31" y="17" width="3" height="1" fill="#a8a8a8"/>
<defs><pattern id="chk" width="2" height="2" patternUnits="userSpaceOnUse"><rect width="2" height="2" fill="#f6f6f6"/><rect width="1" height="1" fill="#e9e9e9"/><rect x="1" y="1" width="1" height="1" fill="#e9e9e9"/></pattern></defs>
<rect x="206" y="0" width="25" height="19" fill="url(#chk)"/>
<rect x="205" y="0" width="1" height="19" fill="#a0a0a0"/>
<rect x="288" y="0" width="1" height="21" fill="#a0a0a0"/>
<rect x="289" y="0" width="1" height="21" fill="#ffffff"/>
<text x="41.81" y="13" font-size="10" fill="#ffffff" textLength="13.67" lengthAdjust="spacingAndGlyphs" stroke="#ffffff" stroke-width="1.4" stroke-opacity="0.55" stroke-linejoin="round">M1</text>
<text x="41.81" y="13" font-size="10" fill="#333333" textLength="13.67" lengthAdjust="spacingAndGlyphs" stroke="#333333" stroke-width="0.25">M1</text>
<text x="70.12" y="13" font-size="10" fill="#ffffff" textLength="13.56" lengthAdjust="spacingAndGlyphs" stroke="#ffffff" stroke-width="1.4" stroke-opacity="0.55" stroke-linejoin="round">M5</text>
<text x="70.12" y="13" font-size="10" fill="#333333" textLength="13.56" lengthAdjust="spacingAndGlyphs" stroke="#333333" stroke-width="0.25">M5</text>
<text x="95.93" y="13" font-size="10" fill="#ffffff" textLength="18.76" lengthAdjust="spacingAndGlyphs" stroke="#ffffff" stroke-width="1.4" stroke-opacity="0.55" stroke-linejoin="round">M15</text>
<text x="95.93" y="13" font-size="10" fill="#333333" textLength="18.76" lengthAdjust="spacingAndGlyphs" stroke="#333333" stroke-width="0.25">M15</text>
<text x="123.92" y="13" font-size="10" fill="#ffffff" textLength="18.97" lengthAdjust="spacingAndGlyphs" stroke="#ffffff" stroke-width="1.4" stroke-opacity="0.55" stroke-linejoin="round">M30</text>
<text x="123.92" y="13" font-size="10" fill="#333333" textLength="18.97" lengthAdjust="spacingAndGlyphs" stroke="#333333" stroke-width="0.25">M30</text>
<text x="155.01" y="13" font-size="10" fill="#ffffff" textLength="12.62" lengthAdjust="spacingAndGlyphs" stroke="#ffffff" stroke-width="1.4" stroke-opacity="0.55" stroke-linejoin="round">H1</text>
<text x="155.01" y="13" font-size="10" fill="#333333" textLength="12.62" lengthAdjust="spacingAndGlyphs" stroke="#333333" stroke-width="0.25">H1</text>
<text x="181.86" y="13" font-size="10" fill="#ffffff" textLength="13.39" lengthAdjust="spacingAndGlyphs" stroke="#ffffff" stroke-width="1.4" stroke-opacity="0.55" stroke-linejoin="round">H4</text>
<text x="181.86" y="13" font-size="10" fill="#333333" textLength="13.39" lengthAdjust="spacingAndGlyphs" stroke="#333333" stroke-width="0.25">H4</text>
<text x="211.02" y="13" font-size="10" fill="#ffffff" textLength="12.50" lengthAdjust="spacingAndGlyphs" stroke="#ffffff" stroke-width="1.4" stroke-opacity="0.55" stroke-linejoin="round">D1</text>
<text x="211.02" y="13" font-size="10" fill="#333333" textLength="12.50" lengthAdjust="spacingAndGlyphs" stroke="#333333" stroke-width="0.25">D1</text>
<text x="238.95" y="13" font-size="10" fill="#ffffff" textLength="14.53" lengthAdjust="spacingAndGlyphs" stroke="#ffffff" stroke-width="1.4" stroke-opacity="0.55" stroke-linejoin="round">W1</text>
<text x="238.95" y="13" font-size="10" fill="#333333" textLength="14.53" lengthAdjust="spacingAndGlyphs" stroke="#333333" stroke-width="0.25">W1</text>
<text x="264.97" y="13" font-size="10" fill="#ffffff" textLength="16.05" lengthAdjust="spacingAndGlyphs" stroke="#ffffff" stroke-width="1.4" stroke-opacity="0.55" stroke-linejoin="round">MN</text>
<text x="264.97" y="13" font-size="10" fill="#333333" textLength="16.05" lengthAdjust="spacingAndGlyphs" stroke="#333333" stroke-width="0.25">MN</text>
<rect x="0" y="739" width="1638" height="1" fill="#e3e3e3"/>
<rect x="0" y="740" width="1638" height="1" fill="#ffffff"/>
<rect x="0" y="741" width="1638" height="1" fill="#000000"/>
<rect x="0" y="742" width="1638" height="1" fill="#fcfcfc"/>
<rect x="0" y="743" width="1638" height="18" fill="#f0f0f0"/>
<rect x="0" y="761" width="1638" height="1" fill="#ffffff"/>
<rect x="0" y="762" width="1638" height="3" fill="#f0f0f0"/>
<rect x="4" y="740" width="104" height="20" fill="#ffffff"/>
<rect x="4" y="741" width="1" height="19" fill="#000"/>
<rect x="107" y="741" width="1" height="19" fill="#000"/>
<rect x="4" y="759" width="104" height="1" fill="#000"/>
<rect x="3" y="742" width="1" height="18" fill="#ffffff"/>
<text x="15.54" y="756" font-size="12" fill="#000" textLength="80.50" lengthAdjust="spacingAndGlyphs">EURUSD,Daily</text>
<text x="117.08" y="756" font-size="12" fill="#6d6d6d" textLength="79.99" lengthAdjust="spacingAndGlyphs">USDCHF,Daily</text>
<text x="218.94" y="756" font-size="12" fill="#6d6d6d" textLength="81.60" lengthAdjust="spacingAndGlyphs">AUDUSD,Daily</text>
<text x="322.09" y="756" font-size="12" fill="#6d6d6d" textLength="81.96" lengthAdjust="spacingAndGlyphs">USDCAD,Daily</text>
<text x="425.48" y="756" font-size="12" fill="#6d6d6d" textLength="83.57" lengthAdjust="spacingAndGlyphs">USDCNH,Daily</text>
<text x="530.32" y="756" font-size="12" fill="#6d6d6d" textLength="78.68" lengthAdjust="spacingAndGlyphs">EURUSD,M15</text>
<text x="630.89" y="756" font-size="12" fill="#6d6d6d" textLength="78.62" lengthAdjust="spacingAndGlyphs">GBPUSD,M30</text>
<text x="730.50" y="756" font-size="12" fill="#6d6d6d" textLength="69.60" lengthAdjust="spacingAndGlyphs">XAUUSD,H1</text>
<text x="822.60" y="756" font-size="12" fill="#6d6d6d" textLength="50.66" lengthAdjust="spacingAndGlyphs">HK50,H1</text>
<text x="894.46" y="756" font-size="12" fill="#6d6d6d" textLength="57.96" lengthAdjust="spacingAndGlyphs">UK100,H1</text>
<text x="974.06" y="756" font-size="12" fill="#6d6d6d" textLength="58.06" lengthAdjust="spacingAndGlyphs">UK100,H1</text>
<text x="1054.40" y="756" font-size="12" fill="#6d6d6d" textLength="57.70" lengthAdjust="spacingAndGlyphs">GER30,H1</text>
<text x="1133.65" y="756" font-size="12" fill="#6d6d6d" textLength="55.49" lengthAdjust="spacingAndGlyphs">FRA40,H1</text>
<text x="1209.57" y="756" font-size="12" fill="#6d6d6d" textLength="63.11" lengthAdjust="spacingAndGlyphs">USOil,Daily</text>
<text x="1293.61" y="756" font-size="12" fill="#6d6d6d" textLength="63.82" lengthAdjust="spacingAndGlyphs">USDJPY,H1</text>
<text x="1378.49" y="756" font-size="12" fill="#6d6d6d" textLength="57.65" lengthAdjust="spacingAndGlyphs">DJ30,M15</text>
<text x="1457.37" y="756" font-size="12" fill="#6d6d6d" textLength="79.82" lengthAdjust="spacingAndGlyphs">CHINA300,H4</text>
<rect x="208" y="745" width="1" height="13" fill="#6d6d6d"/>
<rect x="312" y="745" width="1" height="13" fill="#6d6d6d"/>
<rect x="416" y="745" width="1" height="13" fill="#6d6d6d"/>
<rect x="520" y="745" width="1" height="13" fill="#6d6d6d"/>
<rect x="620" y="745" width="1" height="13" fill="#6d6d6d"/>
<rect x="720" y="745" width="1" height="13" fill="#6d6d6d"/>
<rect x="812" y="745" width="1" height="13" fill="#6d6d6d"/>
<rect x="884" y="745" width="1" height="13" fill="#6d6d6d"/>
<rect x="964" y="745" width="1" height="13" fill="#6d6d6d"/>
<rect x="1044" y="745" width="1" height="13" fill="#6d6d6d"/>
<rect x="1124" y="745" width="1" height="13" fill="#6d6d6d"/>
<rect x="1200" y="745" width="1" height="13" fill="#6d6d6d"/>
<rect x="1284" y="745" width="1" height="13" fill="#6d6d6d"/>
<rect x="1368" y="745" width="1" height="13" fill="#6d6d6d"/>
<rect x="1448" y="745" width="1" height="13" fill="#6d6d6d"/>
<rect x="1548" y="745" width="1" height="13" fill="#6d6d6d"/>
<svg x="1557" y="740" width="48" height="22"><text x="0.9" y="16" font-size="12" fill="#6d6d6d">USOil,H4</text></svg>
<path d="M1614,747 L1614,755 L1610,751 Z" fill="#a0a0a0"/>
<path d="M1629,747 L1629,755 L1633,751 Z" fill="#000"/>
</svg>
</body></html>
